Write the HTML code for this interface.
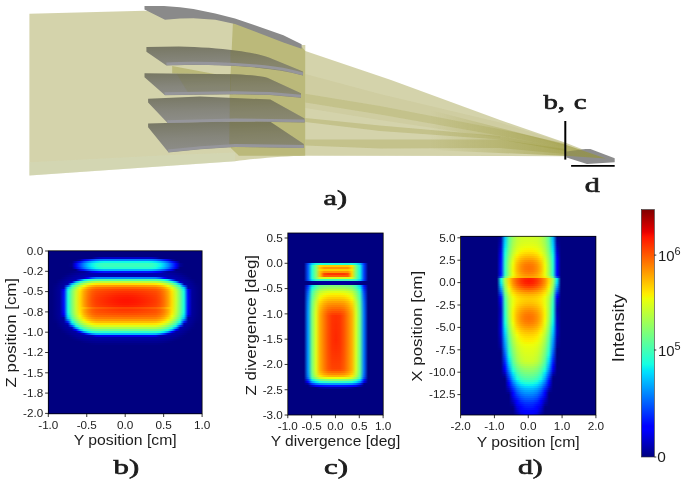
<!DOCTYPE html>
<html><head><meta charset="utf-8"><title>figure</title>
<style>
html,body{margin:0;padding:0;background:#fff;}
body{width:685px;height:484px;position:relative;overflow:hidden;font-family:"Liberation Sans",sans-serif;}
.hm{position:absolute;background:#000080;overflow:hidden;}
.hm i{position:absolute;left:0;width:100%;display:block;}
svg{position:absolute;left:0;top:0;will-change:transform;}
</style></head><body>

<div class="hm" style="left:48.3px;top:250.8px;width:153.8px;height:163.0px">
<i style="top:6px;height:2px;background:linear-gradient(90deg,#000080 0px,#000080 40px,#000084 44px,#0000a9 48px,#0000c0 52px,#0000c8 56px,#0000c8 100px,#0000c2 104px,#0000ac 108px,#000088 112px,#000080 116px,#000080 153.8px)"></i>
<i style="top:8px;height:2px;background:linear-gradient(90deg,#000080 0px,#000080 28px,#000096 32px,#0000e8 36px,#0017ff 40px,#0045ff 44px,#0066ff 48px,#007aff 52px,#0081ff 56px,#0081ff 100px,#007bff 104px,#0068ff 108px,#0048ff 112px,#001cff 116px,#0000ef 120px,#00009f 124px,#000080 128px,#000080 153.8px)"></i>
<i style="top:10px;height:2px;background:linear-gradient(90deg,#000080 0px,#000080 24px,#0000c0 28px,#000dff 32px,#0055ff 36px,#0090ff 40px,#00beff 44px,#00dffc 48px,#0bf3ec 52px,#10fae7 56px,#10fae7 100px,#0cf4eb 104px,#00e1fa 108px,#00c1ff 112px,#0095ff 116px,#005cff 120px,#0015ff 124px,#0000ca 128px,#000080 132px,#000080 153.8px)"></i>
<i style="top:12px;height:2px;background:linear-gradient(90deg,#000080 0px,#000080 20px,#000089 24px,#0000f8 28px,#003fff 32px,#0087ff 36px,#00c2ff 40px,#08efef 44px,#23ffd4 48px,#33ffc4 52px,#38ffbe 56px,#38ffbe 100px,#34ffc3 104px,#25ffd2 108px,#0bf3ec 112px,#00c7ff 116px,#008dff 120px,#0047ff 124px,#0000ff 128px,#000095 132px,#000080 136px,#000080 153.8px)"></i>
<i style="top:14px;height:2px;background:linear-gradient(90deg,#000080 0px,#000080 20px,#00008b 24px,#0000fa 28px,#0041ff 32px,#0088ff 36px,#00c3ff 40px,#09f1ee 44px,#24ffd3 48px,#34ffc3 52px,#3affbd 56px,#3affbd 100px,#35ffc2 104px,#26ffd1 108px,#0cf5ea 112px,#00c8ff 116px,#008fff 120px,#0048ff 124px,#0000ff 128px,#000097 132px,#000080 136px,#000080 153.8px)"></i>
<i style="top:16px;height:2px;background:linear-gradient(90deg,#000080 0px,#000080 24px,#0000e0 28px,#002aff 32px,#0072ff 36px,#00acff 40px,#00daff 44px,#11fbe5 48px,#21ffd5 52px,#27ffd0 56px,#27ffd0 100px,#23ffd4 104px,#13fee3 108px,#00defd 112px,#00b1ff 116px,#0078ff 120px,#0032ff 124px,#0000ea 128px,#000080 132px,#000080 153.8px)"></i>
<i style="top:18px;height:2px;background:linear-gradient(90deg,#000080 0px,#000080 28px,#0000d7 32px,#0015ff 36px,#0050ff 40px,#007eff 44px,#009eff 48px,#00b2ff 52px,#00baff 56px,#00baff 100px,#00b4ff 104px,#00a1ff 108px,#0081ff 112px,#0055ff 116px,#001bff 120px,#0000e0 124px,#000081 128px,#000080 132px,#000080 153.8px)"></i>
<i style="top:20px;height:2px;background:linear-gradient(90deg,#000080 0px,#000080 20px,#000084 24px,#00008d 28px,#000094 32px,#000099 36px,#0000b1 40px,#0000e5 44px,#0000ff 48px,#000fff 52px,#0016ff 56px,#0016ff 100px,#0010ff 104px,#0000ff 108px,#0000e9 112px,#0000b7 116px,#000099 120px,#000094 124px,#00008c 128px,#000084 132px,#000080 136px,#000080 153.8px)"></i>
<i style="top:22px;height:2px;background:linear-gradient(90deg,#000080 0px,#000080 16px,#000085 20px,#00008f 24px,#000098 28px,#00009f 32px,#0000a5 36px,#0000a9 40px,#0000ac 44px,#0000ad 48px,#0000ae 52px,#0000ae 104px,#0000ad 108px,#0000ac 112px,#0000a9 116px,#0000a4 120px,#00009f 124px,#000097 128px,#00008f 132px,#000085 136px,#000080 140px,#000080 153.8px)"></i>
<i style="top:24px;height:2px;background:linear-gradient(90deg,#000080 0px,#000080 12px,#000084 16px,#00008f 20px,#000099 24px,#0000a2 28px,#0000a9 32px,#0000af 36px,#0000b3 40px,#0000b6 44px,#0000b7 48px,#0000b8 52px,#0000b8 104px,#0000b7 108px,#0000b6 112px,#0000b3 116px,#0000ae 120px,#0000a9 124px,#0000a1 128px,#000099 132px,#00008f 136px,#000083 140px,#000080 144px,#000080 153.8px)"></i>
<i style="top:26px;height:2px;background:linear-gradient(90deg,#000080 0px,#000080 12px,#00008c 16px,#000098 20px,#0000a2 24px,#0000aa 28px,#0000b1 32px,#0000b7 36px,#0004ff 40px,#0053ff 44px,#007dff 48px,#0085ff 52px,#0086ff 56px,#0087ff 60px,#0088ff 64px,#0088ff 68px,#0089ff 72px,#0089ff 84px,#0088ff 88px,#0088ff 92px,#0087ff 96px,#0086ff 100px,#0085ff 104px,#007dff 108px,#0052ff 112px,#0001ff 116px,#0000b7 120px,#0000b1 124px,#0000aa 128px,#0000a1 132px,#000097 136px,#00008c 140px,#000080 144px,#000080 153.8px)"></i>
<i style="top:28px;height:2px;background:linear-gradient(90deg,#000080 0px,#000080 8px,#000087 12px,#000094 16px,#00009f 20px,#0000a9 24px,#0000b2 28px,#004bff 32px,#00daff 36px,#21ffd6 40px,#3dffba 44px,#4cffaa 48px,#4fffa7 52px,#50ffa7 56px,#50ffa6 60px,#51ffa6 64px,#51ffa6 68px,#51ffa5 72px,#52ffa5 76px,#52ffa5 80px,#51ffa5 84px,#51ffa6 88px,#51ffa6 92px,#50ffa6 96px,#50ffa7 100px,#4fffa7 104px,#4cffab 108px,#3dffba 112px,#20ffd7 116px,#00d8ff 120px,#0047ff 124px,#0000b2 128px,#0000a9 132px,#00009f 136px,#000094 140px,#000087 144px,#000080 148px,#000080 153.8px)"></i>
<i style="top:30px;height:2px;background:linear-gradient(90deg,#000080 0px,#000080 8px,#00008d 12px,#00009a 16px,#0000a6 20px,#0000d0 24px,#00acff 28px,#27ffd0 32px,#5eff99 36px,#87ff70 40px,#a3ff54 44px,#b2ff45 48px,#b5ff42 52px,#b6ff41 56px,#b7ff40 60px,#b7ff3f 64px,#b8ff3f 68px,#b8ff3e 72px,#b9ff3e 76px,#b9ff3e 80px,#b8ff3e 84px,#b8ff3f 88px,#b7ff3f 92px,#b7ff40 96px,#b6ff41 100px,#b5ff42 104px,#b2ff45 108px,#a2ff54 112px,#86ff71 116px,#5dff9a 120px,#26ffd1 124px,#00a7ff 128px,#0000c9 132px,#0000a5 136px,#00009a 140px,#00008d 144px,#000080 148px,#000080 153.8px)"></i>
<i style="top:32px;height:2px;background:linear-gradient(90deg,#000080 0px,#000080 4px,#000084 8px,#000093 12px,#00009f 16px,#0000ad 20px,#00b2ff 24px,#37ffc0 28px,#7aff7c 32px,#b0ff47 36px,#d8ff1f 40px,#f3f903 44px,#ffe800 48px,#ffe400 52px,#ffe300 56px,#ffe200 60px,#ffe000 64px,#ffdf00 68px,#ffdf00 72px,#ffde00 76px,#ffde00 80px,#ffdf00 84px,#ffdf00 88px,#ffe000 92px,#ffe100 96px,#ffe300 100px,#ffe400 104px,#ffe900 108px,#f3fa04 112px,#d7ff1f 116px,#afff48 120px,#79ff7e 124px,#35ffc2 128px,#00acff 132px,#0000ab 136px,#00009f 140px,#000092 144px,#000084 148px,#000080 152px,#000080 153.8px)"></i>
<i style="top:34px;height:2px;background:linear-gradient(90deg,#000080 0px,#000080 4px,#000088 8px,#000097 12px,#0000a3 16px,#005eff 20px,#26ffd1 24px,#77ff80 28px,#baff3d 32px,#eeff09 36px,#ffd200 40px,#ffb400 44px,#ffa300 48px,#ff9f00 52px,#ff9d00 56px,#ff9b00 60px,#ff9900 64px,#ff9700 68px,#ff9600 72px,#ff9600 84px,#ff9700 88px,#ff9900 92px,#ff9a00 96px,#ff9c00 100px,#ff9e00 104px,#ffa300 108px,#ffb400 112px,#ffd300 116px,#edff0a 120px,#b8ff3e 124px,#75ff81 128px,#24ffd3 132px,#0057ff 136px,#0000a3 140px,#000096 144px,#000088 148px,#000080 152px,#000080 153.8px)"></i>
<i style="top:36px;height:2px;background:linear-gradient(90deg,#000080 0px,#000080 4px,#00008b 8px,#000099 12px,#0000b2 16px,#00d7ff 20px,#54ffa3 24px,#a4ff53 28px,#e6ff11 32px,#ffce00 36px,#ffa200 40px,#ff8400 44px,#ff7400 48px,#ff6e00 52px,#ff6b00 56px,#ff6900 60px,#ff6600 64px,#ff6400 68px,#ff6300 72px,#ff6200 76px,#ff6200 80px,#ff6300 84px,#ff6400 88px,#ff6600 92px,#ff6800 96px,#ff6b00 100px,#ff6e00 104px,#ff7300 108px,#ff8400 112px,#ffa200 116px,#ffcf00 120px,#e4ff12 124px,#a2ff54 128px,#52ffa5 132px,#00d3ff 136px,#0000a9 140px,#000099 144px,#00008b 148px,#000080 152px,#000080 153.8px)"></i>
<i style="top:38px;height:2px;background:linear-gradient(90deg,#000080 0px,#000080 4px,#00008d 8px,#00009b 12px,#0000ff 16px,#0ff8e8 20px,#6eff89 24px,#beff39 28px,#ffeb00 32px,#ffb100 36px,#ff8500 40px,#ff6800 44px,#ff5800 48px,#ff5200 52px,#ff4e00 56px,#ff4a00 60px,#ff4700 64px,#ff4500 68px,#ff4300 72px,#ff4200 76px,#ff4200 80px,#ff4300 84px,#ff4400 88px,#ff4700 92px,#ff4a00 96px,#ff4e00 100px,#ff5200 104px,#ff5800 108px,#ff6800 112px,#ff8600 116px,#ffb200 120px,#feed00 124px,#bdff3a 128px,#6cff8b 132px,#0cf5ea 136px,#0000fe 140px,#00009b 144px,#00008c 148px,#000080 152px,#000080 153.8px)"></i>
<i style="top:40px;height:2px;background:linear-gradient(90deg,#000080 0px,#000080 4px,#00008d 8px,#00009b 12px,#000dff 16px,#17ffe0 20px,#76ff81 24px,#c6ff30 28px,#ffe200 32px,#ffa600 36px,#ff7b00 40px,#ff5d00 44px,#ff4d00 48px,#ff4600 52px,#ff4100 56px,#ff3d00 60px,#ff3900 64px,#ff3500 68px,#ff3300 72px,#ff3200 76px,#ff3200 80px,#ff3300 84px,#ff3500 88px,#ff3800 92px,#ff3c00 96px,#ff4100 100px,#ff4600 104px,#ff4c00 108px,#ff5d00 112px,#ff7b00 116px,#ffa700 120px,#ffe300 124px,#c5ff32 128px,#74ff83 132px,#14ffe2 136px,#0005ff 140px,#00009b 144px,#00008d 148px,#000080 152px,#000080 153.8px)"></i>
<i style="top:42px;height:2px;background:linear-gradient(90deg,#000080 0px,#000080 4px,#00008d 8px,#00009b 12px,#000fff 16px,#18ffdf 20px,#77ff7f 24px,#c8ff2f 28px,#ffdf00 32px,#ffa300 36px,#ff7700 40px,#ff5800 44px,#ff4700 48px,#ff3f00 52px,#ff3a00 56px,#ff3400 60px,#ff2f00 64px,#ff2b00 68px,#ff2800 72px,#ff2700 76px,#ff2700 80px,#ff2800 84px,#ff2b00 88px,#ff2f00 92px,#ff3400 96px,#ff3900 100px,#ff3f00 104px,#ff4600 108px,#ff5800 112px,#ff7700 116px,#ffa400 120px,#ffe000 124px,#c7ff30 128px,#76ff81 132px,#15ffe1 136px,#0007ff 140px,#00009b 144px,#00008d 148px,#000080 152px,#000080 153.8px)"></i>
<i style="top:44px;height:2px;background:linear-gradient(90deg,#000080 0px,#000080 4px,#00008d 8px,#00009b 12px,#0011ff 16px,#18ffde 20px,#79ff7e 24px,#caff2d 28px,#ffdd00 32px,#ffa100 36px,#ff7300 40px,#ff5400 44px,#ff4200 48px,#ff3a00 52px,#ff3300 56px,#ff2d00 60px,#ff2700 64px,#ff2200 68px,#ff1f00 72px,#ff1e00 76px,#ff1d00 80px,#ff1f00 84px,#ff2200 88px,#ff2700 92px,#ff2c00 96px,#ff3200 100px,#ff3900 104px,#ff4100 108px,#ff5400 112px,#ff7300 116px,#ffa100 120px,#ffde00 124px,#c8ff2f 128px,#77ff80 132px,#16ffe1 136px,#0009ff 140px,#00009b 144px,#00008d 148px,#000080 152px,#000080 153.8px)"></i>
<i style="top:46px;height:2px;background:linear-gradient(90deg,#000080 0px,#000080 4px,#00008d 8px,#00009b 12px,#0012ff 16px,#19ffde 20px,#79ff7d 24px,#cbff2c 28px,#ffdc00 32px,#ff9f00 36px,#ff7100 40px,#ff5100 44px,#ff3e00 48px,#ff3500 52px,#ff2e00 56px,#ff2700 60px,#ff2100 64px,#ff1c00 68px,#ff1900 72px,#ff1700 76px,#ff1700 80px,#ff1800 84px,#ff1c00 88px,#ff2100 92px,#ff2700 96px,#ff2d00 100px,#ff3500 104px,#ff3e00 108px,#ff5100 112px,#ff7100 116px,#ff9f00 120px,#ffdd00 124px,#c9ff2e 128px,#77ff7f 132px,#17ffe0 136px,#000aff 140px,#00009b 144px,#00008d 148px,#000080 152px,#000080 153.8px)"></i>
<i style="top:48px;height:2px;background:linear-gradient(90deg,#000080 0px,#000080 4px,#00008d 8px,#00009b 12px,#0012ff 16px,#19ffdd 20px,#7aff7d 24px,#cbff2c 28px,#ffdb00 32px,#ff9e00 36px,#ff6f00 40px,#ff4f00 44px,#ff3c00 48px,#ff3300 52px,#ff2c00 56px,#ff2500 60px,#ff1e00 64px,#ff1900 68px,#ff1500 72px,#ff1300 76px,#ff1300 80px,#ff1500 84px,#ff1900 88px,#ff1e00 92px,#ff2400 96px,#ff2b00 100px,#ff3200 104px,#ff3c00 108px,#ff4f00 112px,#ff7000 116px,#ff9e00 120px,#ffdc00 124px,#caff2d 128px,#78ff7f 132px,#17ffe0 136px,#000bff 140px,#00009b 144px,#00008d 148px,#000080 152px,#000080 153.8px)"></i>
<i style="top:50px;height:2px;background:linear-gradient(90deg,#000080 0px,#000080 4px,#00008d 8px,#00009b 12px,#0012ff 16px,#19ffdd 20px,#7aff7d 24px,#cbff2c 28px,#ffdb00 32px,#ff9e00 36px,#ff7000 40px,#ff5000 44px,#ff3d00 48px,#ff3400 52px,#ff2c00 56px,#ff2500 60px,#ff1f00 64px,#ff1a00 68px,#ff1600 72px,#ff1400 76px,#ff1400 80px,#ff1600 84px,#ff1900 88px,#ff1e00 92px,#ff2400 96px,#ff2b00 100px,#ff3300 104px,#ff3c00 108px,#ff4f00 112px,#ff7000 116px,#ff9e00 120px,#ffdc00 124px,#caff2d 128px,#78ff7f 132px,#17ffe0 136px,#000aff 140px,#00009b 144px,#00008d 148px,#000080 152px,#000080 153.8px)"></i>
<i style="top:52px;height:2px;background:linear-gradient(90deg,#000080 0px,#000080 4px,#00008d 8px,#00009b 12px,#0011ff 16px,#19ffde 20px,#79ff7e 24px,#caff2c 28px,#ffdc00 32px,#ff9f00 36px,#ff7100 40px,#ff5200 44px,#ff3f00 48px,#ff3600 52px,#ff2f00 56px,#ff2900 60px,#ff2300 64px,#ff1e00 68px,#ff1a00 72px,#ff1800 76px,#ff1800 80px,#ff1a00 84px,#ff1d00 88px,#ff2200 92px,#ff2800 96px,#ff2f00 100px,#ff3600 104px,#ff3f00 108px,#ff5200 112px,#ff7100 116px,#ffa000 120px,#ffdd00 124px,#c9ff2e 128px,#77ff80 132px,#17ffe0 136px,#000aff 140px,#00009b 144px,#00008d 148px,#000080 152px,#000080 153.8px)"></i>
<i style="top:54px;height:2px;background:linear-gradient(90deg,#000080 0px,#000080 4px,#00008d 8px,#00009b 12px,#0010ff 16px,#18ffde 20px,#78ff7f 24px,#c9ff2e 28px,#ffde00 32px,#ffa100 36px,#ff7400 40px,#ff5500 44px,#ff4300 48px,#ff3b00 52px,#ff3500 56px,#ff2f00 60px,#ff2900 64px,#ff2500 68px,#ff2200 72px,#ff2000 76px,#ff2000 80px,#ff2200 84px,#ff2500 88px,#ff2900 92px,#ff2e00 96px,#ff3400 100px,#ff3a00 104px,#ff4300 108px,#ff5500 112px,#ff7400 116px,#ffa200 120px,#ffdf00 124px,#c8ff2f 128px,#76ff80 132px,#16ffe1 136px,#0008ff 140px,#00009b 144px,#00008d 148px,#000080 152px,#000080 153.8px)"></i>
<i style="top:56px;height:2px;background:linear-gradient(90deg,#000080 0px,#000080 4px,#00008d 8px,#00009b 12px,#000eff 16px,#17ffdf 20px,#77ff80 24px,#c8ff2f 28px,#ffe000 32px,#ffbf00 36px,#ff9300 40px,#ff7400 44px,#ff6300 48px,#ff5c00 52px,#ff5700 56px,#ff5100 60px,#ff4d00 64px,#ff4900 68px,#ff4600 72px,#ff4500 76px,#ff4500 80px,#ff4600 84px,#ff4900 88px,#ff4c00 92px,#ff5100 96px,#ff5600 100px,#ff5c00 104px,#ff6300 108px,#ff7400 112px,#ff9300 116px,#ffc000 120px,#ffe100 124px,#c6ff31 128px,#75ff82 132px,#15ffe2 136px,#0007ff 140px,#00009b 144px,#00008d 148px,#000080 152px,#000080 153.8px)"></i>
<i style="top:58px;height:2px;background:linear-gradient(90deg,#000080 0px,#000080 4px,#00008d 8px,#00009b 12px,#000dff 16px,#17ffe0 20px,#76ff81 24px,#c6ff31 28px,#ffe200 32px,#ffaa00 36px,#ff7e00 40px,#ff6100 44px,#ff5100 48px,#ff4a00 52px,#ff4600 56px,#ff4200 60px,#ff3e00 64px,#ff3b00 68px,#ff3800 72px,#ff3700 76px,#ff3700 80px,#ff3800 84px,#ff3a00 88px,#ff3d00 92px,#ff4100 96px,#ff4500 100px,#ff4a00 104px,#ff5000 108px,#ff6100 112px,#ff7e00 116px,#ffaa00 120px,#ffe400 124px,#c4ff32 128px,#74ff83 132px,#14fee3 136px,#0005ff 140px,#00009b 144px,#00008d 148px,#000080 152px,#000080 153.8px)"></i>
<i style="top:60px;height:2px;background:linear-gradient(90deg,#000080 0px,#000080 4px,#00008d 8px,#00009b 12px,#0009ff 16px,#15ffe2 20px,#74ff83 24px,#c4ff33 28px,#ffe600 32px,#ffab00 36px,#ff8000 40px,#ff6400 44px,#ff5500 48px,#ff4f00 52px,#ff4c00 56px,#ff4800 60px,#ff4500 64px,#ff4300 68px,#ff4100 72px,#ff4000 76px,#ff4000 80px,#ff4100 84px,#ff4300 88px,#ff4500 92px,#ff4800 96px,#ff4b00 100px,#ff4f00 104px,#ff5400 108px,#ff6400 112px,#ff8100 116px,#ffac00 120px,#ffe700 124px,#c2ff35 128px,#72ff85 132px,#13fde4 136px,#0002ff 140px,#00009b 144px,#00008d 148px,#000080 152px,#000080 153.8px)"></i>
<i style="top:62px;height:2px;background:linear-gradient(90deg,#000080 0px,#000080 4px,#00008d 8px,#00009b 12px,#0000ff 16px,#0ef7e9 20px,#6dff8a 24px,#bdff3a 28px,#fdee00 32px,#ffb400 36px,#ff8a00 40px,#ff6d00 44px,#ff5e00 48px,#ff5a00 52px,#ff5700 56px,#ff5500 60px,#ff5200 64px,#ff5100 68px,#ff4f00 72px,#ff4f00 84px,#ff5000 88px,#ff5200 92px,#ff5400 96px,#ff5700 100px,#ff5a00 104px,#ff5e00 108px,#ff6e00 112px,#ff8a00 116px,#ffb500 120px,#fcef00 124px,#bbff3c 128px,#6bff8c 132px,#0cf4eb 136px,#0000fd 140px,#00009a 144px,#00008c 148px,#000080 152px,#000080 153.8px)"></i>
<i style="top:64px;height:2px;background:linear-gradient(90deg,#000080 0px,#000080 4px,#00008b 8px,#00009a 12px,#0000dd 16px,#01e7f6 20px,#60ff97 24px,#afff47 28px,#f0fd07 32px,#ffc300 36px,#ff9900 40px,#ff7c00 44px,#ff6d00 48px,#ff6900 52px,#ff6800 56px,#ff6600 60px,#ff6400 64px,#ff6300 68px,#ff6200 72px,#ff6100 76px,#ff6100 80px,#ff6200 84px,#ff6300 88px,#ff6400 92px,#ff6600 96px,#ff6700 100px,#ff6900 104px,#ff6d00 108px,#ff7d00 112px,#ff9900 116px,#ffc400 120px,#efff08 124px,#aeff49 128px,#5eff99 132px,#00e4f8 136px,#0000d3 140px,#000099 144px,#00008b 148px,#000080 152px,#000080 153.8px)"></i>
<i style="top:66px;height:2px;background:linear-gradient(90deg,#000080 0px,#000080 4px,#00008a 8px,#000098 12px,#0000a5 16px,#00caff 20px,#4cffab 24px,#9cff5b 28px,#ddff1a 32px,#ffd900 36px,#ffae00 40px,#ff9100 44px,#ff8200 48px,#ff7f00 52px,#ff7d00 56px,#ff7c00 60px,#ff7b00 64px,#ff7a00 68px,#ff7a00 72px,#ff7900 76px,#ff7900 84px,#ff7a00 88px,#ff7b00 92px,#ff7c00 96px,#ff7d00 100px,#ff7e00 104px,#ff8200 108px,#ff9200 112px,#ffaf00 116px,#ffda00 120px,#dcff1b 124px,#9aff5c 128px,#4affad 132px,#00c3ff 136px,#0000a4 140px,#000097 144px,#000089 148px,#000080 152px,#000080 153.8px)"></i>
<i style="top:68px;height:2px;background:linear-gradient(90deg,#000080 0px,#000080 4px,#000087 8px,#000095 12px,#0000a2 16px,#0082ff 20px,#32ffc5 24px,#82ff74 28px,#c4ff33 32px,#f7f500 36px,#ffc900 40px,#ffad00 44px,#ff9d00 48px,#ff9a00 52px,#ff9900 56px,#ff9800 60px,#ff9800 64px,#ff9700 68px,#ff9700 72px,#ff9600 76px,#ff9600 80px,#ff9700 84px,#ff9700 88px,#ff9800 92px,#ff9800 96px,#ff9900 100px,#ff9a00 104px,#ff9d00 108px,#ffad00 112px,#ffca00 116px,#f6f600 120px,#c3ff34 124px,#81ff76 128px,#30ffc7 132px,#007bff 136px,#0000a2 140px,#000095 144px,#000087 148px,#000080 152px,#000080 153.8px)"></i>
<i style="top:70px;height:2px;background:linear-gradient(90deg,#000080 0px,#000080 4px,#000084 8px,#000092 12px,#00009f 16px,#0027ff 20px,#11fbe5 24px,#62ff94 28px,#a5ff52 32px,#d9ff1e 36px,#ffec00 40px,#ffcf00 44px,#ffbf00 48px,#ffbc00 52px,#ffbc00 56px,#ffbb00 60px,#ffbb00 64px,#ffba00 68px,#ffba00 88px,#ffbb00 92px,#ffbb00 100px,#ffbc00 104px,#ffbf00 108px,#ffcf00 112px,#feed00 116px,#d7ff1f 120px,#a3ff54 124px,#61ff96 128px,#0ff8e8 132px,#0020ff 136px,#00009f 140px,#000092 144px,#000084 148px,#000080 152px,#000080 153.8px)"></i>
<i style="top:72px;height:2px;background:linear-gradient(90deg,#000080 0px,#000080 8px,#00008e 12px,#00009b 16px,#0000bf 20px,#00c1ff 24px,#3cffbb 28px,#7fff78 32px,#b3ff43 36px,#daff1c 40px,#f5f802 44px,#ffe800 48px,#ffe500 52px,#ffe500 60px,#ffe400 64px,#ffe400 92px,#ffe500 96px,#ffe500 104px,#ffe800 108px,#f4f803 112px,#daff1d 116px,#b2ff45 120px,#7dff7a 124px,#3affbd 128px,#00bbff 132px,#0000b7 136px,#00009b 140px,#00008e 144px,#000080 148px,#000080 153.8px)"></i>
<i style="top:74px;height:2px;background:linear-gradient(90deg,#000080 0px,#000080 8px,#00008a 12px,#000097 16px,#0000a2 20px,#0042ff 24px,#0ef7e9 28px,#52ffa5 32px,#87ff70 36px,#afff48 40px,#caff2d 44px,#d8ff1f 48px,#daff1c 52px,#daff1c 56px,#dbff1c 60px,#dbff1c 96px,#daff1c 100px,#daff1c 104px,#d8ff1f 108px,#c9ff2d 112px,#aeff48 116px,#86ff71 120px,#50ffa7 124px,#0cf4eb 128px,#003cff 132px,#0000a2 136px,#000096 140px,#00008a 144px,#000080 148px,#000080 153.8px)"></i>
<i style="top:76px;height:2px;background:linear-gradient(90deg,#000080 0px,#000080 8px,#000085 12px,#000092 16px,#00009d 20px,#0000b5 24px,#0093ff 28px,#1effd9 32px,#54ffa3 36px,#7dff7a 40px,#98ff5f 44px,#a6ff51 48px,#a9ff4e 52px,#a9ff4e 104px,#a6ff51 108px,#97ff5f 112px,#7cff7b 116px,#53ffa4 120px,#1cffdb 124px,#008eff 128px,#0000ae 132px,#00009d 136px,#000091 140px,#000084 144px,#000080 148px,#000080 153.8px)"></i>
<i style="top:78px;height:2px;background:linear-gradient(90deg,#000080 0px,#000080 12px,#00008c 16px,#000097 20px,#0000a1 24px,#0000fd 28px,#00adff 32px,#1affdd 36px,#43ffb4 40px,#5fff98 44px,#6dff8a 48px,#70ff87 52px,#70ff87 104px,#6dff8a 108px,#5eff99 112px,#42ffb5 116px,#18ffde 120px,#00a9ff 124px,#0000f7 128px,#0000a1 132px,#000097 136px,#00008c 140px,#000080 144px,#000080 153.8px)"></i>
<i style="top:80px;height:2px;background:linear-gradient(90deg,#000080 0px,#000080 12px,#000086 16px,#000091 20px,#00009b 24px,#0000a3 28px,#0000ff 32px,#0090ff 36px,#02e7f5 40px,#1effd9 44px,#2dffca 48px,#2fffc8 52px,#2fffc8 104px,#2cffca 108px,#1dffda 112px,#01e6f6 116px,#008cff 120px,#0000ff 124px,#0000a3 128px,#00009b 132px,#000091 136px,#000085 140px,#000080 144px,#000080 153.8px)"></i>
<i style="top:82px;height:2px;background:linear-gradient(90deg,#000080 0px,#000080 16px,#00008a 20px,#000094 24px,#00009c 28px,#0000a4 32px,#0000cf 36px,#003aff 40px,#0089ff 44px,#00b2ff 48px,#00b9ff 52px,#00b9ff 104px,#00b1ff 108px,#0087ff 112px,#0038ff 116px,#0000cb 120px,#0000a3 124px,#00009c 128px,#000094 132px,#00008a 136px,#000080 140px,#000080 153.8px)"></i>
<i style="top:84px;height:2px;background:linear-gradient(90deg,#000080 0px,#000080 16px,#000082 20px,#00008c 24px,#000095 28px,#00009c 32px,#0000a2 36px,#0000a6 40px,#0000b2 44px,#0000e1 48px,#0000e9 52px,#0000e9 104px,#0000e1 108px,#0000b0 112px,#0000a6 116px,#0000a2 120px,#00009c 124px,#000095 128px,#00008c 132px,#000082 136px,#000080 140px,#000080 153.8px)"></i>
<i style="top:86px;height:2px;background:linear-gradient(90deg,#000080 0px,#000080 20px,#000084 24px,#00008d 28px,#000094 32px,#000099 36px,#00009e 40px,#0000a1 44px,#0000a2 48px,#0000a3 52px,#0000a3 104px,#0000a2 108px,#0000a1 112px,#00009e 116px,#000099 120px,#000094 124px,#00008c 128px,#000084 132px,#000080 136px,#000080 153.8px)"></i>
<i style="top:88px;height:2px;background:linear-gradient(90deg,#000080 0px,#000080 24px,#000084 28px,#00008b 32px,#000091 36px,#000095 40px,#000098 44px,#000099 48px,#00009a 52px,#00009a 104px,#000099 108px,#000098 112px,#000095 116px,#000090 120px,#00008b 124px,#000083 128px,#000080 132px,#000080 153.8px)"></i>
<i style="top:90px;height:2px;background:linear-gradient(90deg,#000080 0px,#000080 28px,#000081 32px,#000087 36px,#00008b 40px,#00008e 44px,#000090 48px,#000090 108px,#00008e 112px,#00008b 116px,#000087 120px,#000081 124px,#000080 128px,#000080 153.8px)"></i>
<i style="top:92px;height:2px;background:linear-gradient(90deg,#000080 0px,#000080 36px,#000081 40px,#000084 44px,#000086 48px,#000086 108px,#000084 112px,#000081 116px,#000080 120px,#000080 153.8px)"></i>
</div>
<div class="hm" style="left:287.8px;top:233px;width:95.39999999999998px;height:182px">
<i style="top:30px;height:2px;background:linear-gradient(90deg,#000080 0px,#000080 16px,#0045ff 20px,#00ceff 24px,#13fde4 28px,#1dffda 32px,#1dffd9 36px,#1dffd9 60px,#1dffda 64px,#10f9e7 68px,#00c5ff 72px,#0032ff 76px,#000080 80px,#000080 95.4px)"></i>
<i style="top:32px;height:2px;background:linear-gradient(90deg,#000080 0px,#000080 16px,#0056ff 20px,#1dffd9 24px,#82ff74 28px,#ffdc00 32px,#ffcd00 36px,#ffcd00 60px,#ffe700 64px,#76ff81 68px,#11fbe6 72px,#0040ff 76px,#000080 80px,#000080 95.4px)"></i>
<i style="top:34px;height:2px;background:linear-gradient(90deg,#000080 0px,#000080 16px,#0056ff 20px,#1effd9 24px,#83ff74 28px,#ffc600 32px,#ff9500 36px,#ff9500 60px,#ffd800 64px,#76ff80 68px,#11fbe6 72px,#0040ff 76px,#000080 80px,#000080 95.4px)"></i>
<i style="top:36px;height:2px;background:linear-gradient(90deg,#000080 0px,#000080 16px,#0056ff 20px,#1dffd9 24px,#82ff74 28px,#ffdc00 32px,#ffcd00 36px,#ffcd00 60px,#ffe700 64px,#76ff81 68px,#11fbe6 72px,#0040ff 76px,#000080 80px,#000080 95.4px)"></i>
<i style="top:38px;height:2px;background:linear-gradient(90deg,#000080 0px,#000080 16px,#0056ff 20px,#1effd9 24px,#83ff74 28px,#ffc600 32px,#ff9400 36px,#ff9400 60px,#ffd800 64px,#76ff80 68px,#11fbe6 72px,#0040ff 76px,#000080 80px,#000080 95.4px)"></i>
<i style="top:40px;height:2px;background:linear-gradient(90deg,#000080 0px,#000080 16px,#0056ff 20px,#1effd9 24px,#83ff74 28px,#ffc300 32px,#ff4900 36px,#ff3600 40px,#ff3600 56px,#ff4e00 60px,#ffd700 64px,#76ff80 68px,#11fbe6 72px,#0040ff 76px,#000080 80px,#000080 95.4px)"></i>
<i style="top:42px;height:2px;background:linear-gradient(90deg,#000080 0px,#000080 16px,#0056ff 20px,#1effd9 24px,#83ff74 28px,#ffc300 32px,#ff5d00 36px,#ff5d00 56px,#ff5e00 60px,#ffd700 64px,#76ff80 68px,#11fbe6 72px,#0040ff 76px,#000080 80px,#000080 95.4px)"></i>
<i style="top:44px;height:2px;background:linear-gradient(90deg,#000080 0px,#000080 16px,#0055ff 20px,#1cffdb 24px,#7dff7a 28px,#d6ff21 32px,#d9ff1e 36px,#d9ff1e 60px,#d4ff23 64px,#71ff85 68px,#10f9e7 72px,#0040ff 76px,#000080 80px,#000080 95.4px)"></i>
<i style="top:46px;height:2px;background:linear-gradient(90deg,#000080 0px,#000080 16px,#004cff 20px,#00e3f9 24px,#2fffc8 28px,#3fffb8 32px,#3fffb8 64px,#2bffcb 68px,#00d8ff 72px,#0038ff 76px,#000080 80px,#000080 95.4px)"></i>
<i style="top:48px;height:2px;background:linear-gradient(90deg,#000080 0px,#000080 20px,#000099 24px,#00009e 28px,#00009f 32px,#00009f 64px,#00009e 68px,#000098 72px,#000080 76px,#000080 95.4px)"></i>
<i style="top:50px;height:2px;background:linear-gradient(90deg,#000080 0px,#000080 28px,#00008f 32px,#000097 36px,#00009b 40px,#00009c 44px,#00009c 52px,#00009b 56px,#000096 60px,#00008e 64px,#000080 68px,#000080 95.4px)"></i>
<i style="top:52px;height:2px;background:linear-gradient(90deg,#000080 0px,#000080 16px,#002eff 20px,#00e3f9 24px,#3fffb8 28px,#6aff8d 32px,#77ff80 36px,#7dff79 40px,#7fff77 44px,#80ff77 48px,#7fff77 52px,#7dff7a 56px,#76ff81 60px,#68ff8e 64px,#3bffbc 68px,#00d6ff 72px,#0012ff 76px,#000080 80px,#000080 95.4px)"></i>
<i style="top:54px;height:2px;background:linear-gradient(90deg,#000080 0px,#000080 16px,#0042ff 20px,#13fde4 24px,#58ff9e 28px,#87ff6f 32px,#95ff61 36px,#9dff5a 40px,#9fff58 44px,#9fff58 52px,#9cff5a 56px,#94ff63 60px,#86ff71 64px,#54ffa3 68px,#09f0ee 72px,#0025ff 76px,#000080 80px,#000080 95.4px)"></i>
<i style="top:56px;height:2px;background:linear-gradient(90deg,#000080 0px,#000080 16px,#0054ff 20px,#27ffcf 24px,#71ff86 28px,#a4ff53 32px,#b4ff43 36px,#bcff3a 40px,#bfff38 44px,#bfff38 52px,#bcff3b 56px,#b2ff44 60px,#a2ff55 64px,#6cff8b 68px,#1cffdb 72px,#0036ff 76px,#000080 80px,#000080 95.4px)"></i>
<i style="top:58px;height:2px;background:linear-gradient(90deg,#000080 0px,#000080 16px,#0064ff 20px,#3affbd 24px,#88ff6f 28px,#c0ff37 32px,#d2ff25 36px,#dcff1b 40px,#deff18 44px,#dfff18 48px,#deff18 52px,#dbff1c 56px,#d0ff26 60px,#beff39 64px,#83ff74 68px,#2effc9 72px,#0045ff 76px,#000080 80px,#000080 95.4px)"></i>
<i style="top:60px;height:2px;background:linear-gradient(90deg,#000080 0px,#000080 16px,#006fff 20px,#47ffb0 24px,#99ff5e 28px,#d5ff21 32px,#e9ff0e 36px,#f4f903 40px,#f7f500 44px,#f8f500 48px,#f7f500 52px,#f3f903 56px,#e7ff0f 60px,#d3ff24 64px,#93ff63 68px,#3bffbc 72px,#0050ff 76px,#000080 80px,#000080 95.4px)"></i>
<i style="top:62px;height:2px;background:linear-gradient(90deg,#000080 0px,#000080 16px,#0077ff 20px,#50ffa7 24px,#a4ff52 28px,#e4ff12 32px,#faf200 36px,#ffe400 40px,#ffe000 44px,#ffe000 52px,#ffe500 56px,#f8f400 60px,#e2ff15 64px,#9fff58 68px,#43ffb3 72px,#0057ff 76px,#000080 80px,#000080 95.4px)"></i>
<i style="top:64px;height:2px;background:linear-gradient(90deg,#000080 0px,#000080 16px,#007eff 20px,#58ff9f 24px,#afff48 28px,#f3fa04 32px,#ffdf00 36px,#ffd000 40px,#ffcb00 44px,#ffcb00 52px,#ffd100 56px,#ffe200 60px,#f0fd07 64px,#a9ff4e 68px,#4bffac 72px,#005dff 76px,#000080 80px,#000080 95.4px)"></i>
<i style="top:66px;height:2px;background:linear-gradient(90deg,#000080 0px,#000080 16px,#0083ff 20px,#5fff98 24px,#b9ff3e 28px,#ffea00 32px,#ffcd00 36px,#ffbc00 40px,#ffb700 44px,#ffb600 48px,#ffb700 52px,#ffbd00 56px,#ffd000 60px,#feee00 64px,#b3ff44 68px,#52ffa5 72px,#0063ff 76px,#000080 80px,#000080 95.4px)"></i>
<i style="top:68px;height:2px;background:linear-gradient(90deg,#000080 0px,#000080 16px,#0089ff 20px,#66ff91 24px,#c2ff35 28px,#ffdc00 32px,#ffbc00 36px,#ffa800 40px,#ffa200 44px,#ffa200 52px,#ffa900 56px,#ffbe00 60px,#ffdf00 64px,#bbff3b 68px,#58ff9f 72px,#0068ff 76px,#000080 80px,#000080 95.4px)"></i>
<i style="top:70px;height:2px;background:linear-gradient(90deg,#000080 0px,#000080 16px,#008dff 20px,#6aff8c 24px,#c9ff2e 28px,#ffd000 32px,#ffad00 36px,#ff9700 40px,#ff9000 44px,#ff8f00 48px,#ff9000 52px,#ff9800 56px,#ffb000 60px,#ffd300 64px,#c2ff35 68px,#5dff9a 72px,#006cff 76px,#000080 80px,#000080 95.4px)"></i>
<i style="top:72px;height:2px;background:linear-gradient(90deg,#000080 0px,#000080 16px,#0090ff 20px,#6eff89 24px,#ceff29 28px,#ffc600 32px,#ffa100 36px,#ff8800 40px,#ff8000 44px,#ff7f00 48px,#ff8000 52px,#ff8a00 56px,#ffa400 60px,#ffca00 64px,#c7ff2f 68px,#60ff96 72px,#006eff 76px,#000080 80px,#000080 95.4px)"></i>
<i style="top:74px;height:2px;background:linear-gradient(90deg,#000080 0px,#000080 16px,#0092ff 20px,#71ff85 24px,#d3ff24 28px,#ffbe00 32px,#ff9600 36px,#ff7a00 40px,#ff7000 44px,#ff6f00 48px,#ff7000 52px,#ff7c00 56px,#ff9900 60px,#ffc200 64px,#ccff2b 68px,#63ff93 72px,#0071ff 76px,#000080 80px,#000080 95.4px)"></i>
<i style="top:76px;height:2px;background:linear-gradient(90deg,#000080 0px,#000080 16px,#0094ff 20px,#74ff83 24px,#d6ff20 28px,#ffb700 32px,#ff8c00 36px,#ff6c00 40px,#ff6000 44px,#ff5f00 48px,#ff6000 52px,#ff6e00 56px,#ff9000 60px,#ffbb00 64px,#cfff28 68px,#66ff91 72px,#0073ff 76px,#000080 80px,#000080 95.4px)"></i>
<i style="top:78px;height:2px;background:linear-gradient(90deg,#000080 0px,#000080 16px,#0096ff 20px,#76ff81 24px,#d9ff1e 28px,#ffb100 32px,#ff8400 36px,#ff6000 40px,#ff5100 44px,#ff4f00 48px,#ff5100 52px,#ff6200 56px,#ff8800 60px,#ffb600 64px,#d2ff25 68px,#68ff8f 72px,#0074ff 76px,#000080 80px,#000080 95.4px)"></i>
<i style="top:80px;height:2px;background:linear-gradient(90deg,#000080 0px,#000080 16px,#0097ff 20px,#77ff80 24px,#dbff1c 28px,#ffad00 32px,#ff7e00 36px,#ff5600 40px,#ff4100 44px,#ff3f00 48px,#ff4200 52px,#ff5900 56px,#ff8300 60px,#ffb200 64px,#d4ff23 68px,#69ff8e 72px,#0075ff 76px,#000080 80px,#000080 95.4px)"></i>
<i style="top:82px;height:2px;background:linear-gradient(90deg,#000080 0px,#000080 16px,#0097ff 20px,#78ff7f 24px,#dcff1b 28px,#ffab00 32px,#ff7b00 36px,#ff4f00 40px,#ff3400 44px,#ff2f00 48px,#ff3500 52px,#ff5300 56px,#ff8000 60px,#ffb000 64px,#d5ff22 68px,#6aff8d 72px,#0076ff 76px,#000080 80px,#000080 95.4px)"></i>
<i style="top:84px;height:2px;background:linear-gradient(90deg,#000080 0px,#000080 16px,#0097ff 20px,#78ff7f 24px,#dcff1b 28px,#ffab00 32px,#ff7b00 36px,#ff4f00 40px,#ff3400 44px,#ff2e00 48px,#ff3400 52px,#ff5300 56px,#ff8000 60px,#ffb000 64px,#d5ff22 68px,#6aff8d 72px,#0076ff 76px,#000080 80px,#000080 95.4px)"></i>
<i style="top:86px;height:2px;background:linear-gradient(90deg,#000080 0px,#000080 16px,#0097ff 20px,#78ff7f 24px,#dcff1b 28px,#ffab00 32px,#ff7b00 36px,#ff4f00 40px,#ff3300 44px,#ff2e00 48px,#ff3400 52px,#ff5300 56px,#ff8000 60px,#ffb000 64px,#d5ff22 68px,#6aff8d 72px,#0076ff 76px,#000080 80px,#000080 95.4px)"></i>
<i style="top:88px;height:2px;background:linear-gradient(90deg,#000080 0px,#000080 16px,#0097ff 20px,#78ff7f 24px,#dcff1b 28px,#ffab00 32px,#ff7b00 36px,#ff4f00 40px,#ff3300 44px,#ff2d00 48px,#ff3400 52px,#ff5300 56px,#ff8000 60px,#ffb000 64px,#d5ff22 68px,#6aff8d 72px,#0076ff 76px,#000080 80px,#000080 95.4px)"></i>
<i style="top:90px;height:2px;background:linear-gradient(90deg,#000080 0px,#000080 16px,#0097ff 20px,#78ff7f 24px,#dcff1b 28px,#ffab00 32px,#ff7b00 36px,#ff4f00 40px,#ff3200 44px,#ff2c00 48px,#ff3300 52px,#ff5300 56px,#ff7f00 60px,#ffb000 64px,#d5ff22 68px,#6aff8d 72px,#0076ff 76px,#000080 80px,#000080 95.4px)"></i>
<i style="top:92px;height:2px;background:linear-gradient(90deg,#000080 0px,#000080 16px,#0097ff 20px,#78ff7f 24px,#dcff1b 28px,#ffab00 32px,#ff7b00 36px,#ff4f00 40px,#ff3200 44px,#ff2b00 48px,#ff3300 52px,#ff5300 56px,#ff7f00 60px,#ffb000 64px,#d5ff22 68px,#6aff8d 72px,#0076ff 76px,#000080 80px,#000080 95.4px)"></i>
<i style="top:94px;height:2px;background:linear-gradient(90deg,#000080 0px,#000080 16px,#0097ff 20px,#78ff7f 24px,#dcff1b 28px,#ffab00 32px,#ff7b00 36px,#ff4f00 40px,#ff3200 44px,#ff2b00 48px,#ff3300 52px,#ff5200 56px,#ff7f00 60px,#ffb000 64px,#d5ff22 68px,#6aff8d 72px,#0076ff 76px,#000080 80px,#000080 95.4px)"></i>
<i style="top:96px;height:2px;background:linear-gradient(90deg,#000080 0px,#000080 16px,#0097ff 20px,#78ff7f 24px,#dcff1b 28px,#ffab00 32px,#ff7a00 36px,#ff4f00 40px,#ff3100 44px,#ff2a00 48px,#ff3200 52px,#ff5200 56px,#ff7f00 60px,#ffb000 64px,#d5ff22 68px,#6aff8d 72px,#0076ff 76px,#000080 80px,#000080 95.4px)"></i>
<i style="top:98px;height:2px;background:linear-gradient(90deg,#000080 0px,#000080 16px,#0097ff 20px,#78ff7f 24px,#dcff1b 28px,#ffab00 32px,#ff7a00 36px,#ff4f00 40px,#ff3100 44px,#ff2900 48px,#ff3200 52px,#ff5200 56px,#ff7f00 60px,#ffb000 64px,#d5ff22 68px,#6aff8d 72px,#0076ff 76px,#000080 80px,#000080 95.4px)"></i>
<i style="top:100px;height:2px;background:linear-gradient(90deg,#000080 0px,#000080 16px,#0097ff 20px,#78ff7f 24px,#dcff1b 28px,#ffab00 32px,#ff7a00 36px,#ff4e00 40px,#ff3100 44px,#ff2800 48px,#ff3200 52px,#ff5200 56px,#ff7f00 60px,#ffb000 64px,#d5ff22 68px,#6aff8d 72px,#0076ff 76px,#000080 80px,#000080 95.4px)"></i>
<i style="top:102px;height:2px;background:linear-gradient(90deg,#000080 0px,#000080 16px,#0097ff 20px,#78ff7f 24px,#dcff1b 28px,#ffab00 32px,#ff7a00 36px,#ff4e00 40px,#ff3100 44px,#ff2700 48px,#ff3200 52px,#ff5200 56px,#ff7f00 60px,#ffb000 64px,#d5ff22 68px,#6aff8d 72px,#0076ff 76px,#000080 80px,#000080 95.4px)"></i>
<i style="top:104px;height:2px;background:linear-gradient(90deg,#000080 0px,#000080 16px,#0097ff 20px,#78ff7f 24px,#dcff1b 28px,#ffab00 32px,#ff7a00 36px,#ff4e00 40px,#ff3100 44px,#ff2700 48px,#ff3200 52px,#ff5200 56px,#ff7f00 60px,#ffb000 64px,#d5ff22 68px,#6aff8d 72px,#0076ff 76px,#000080 80px,#000080 95.4px)"></i>
<i style="top:106px;height:2px;background:linear-gradient(90deg,#000080 0px,#000080 16px,#0097ff 20px,#78ff7f 24px,#dcff1b 28px,#ffab00 32px,#ff7a00 36px,#ff4e00 40px,#ff3100 44px,#ff2600 48px,#ff3200 52px,#ff5200 56px,#ff7f00 60px,#ffb000 64px,#d5ff22 68px,#6aff8d 72px,#0076ff 76px,#000080 80px,#000080 95.4px)"></i>
<i style="top:108px;height:2px;background:linear-gradient(90deg,#000080 0px,#000080 16px,#0097ff 20px,#78ff7f 24px,#dcff1b 28px,#ffab00 32px,#ff7a00 36px,#ff4e00 40px,#ff3100 44px,#ff2800 48px,#ff3200 52px,#ff5200 56px,#ff7f00 60px,#ffb000 64px,#d5ff22 68px,#6aff8d 72px,#0076ff 76px,#000080 80px,#000080 95.4px)"></i>
<i style="top:110px;height:2px;background:linear-gradient(90deg,#000080 0px,#000080 16px,#0097ff 20px,#78ff7f 24px,#dcff1b 28px,#ffab00 32px,#ff7a00 36px,#ff4f00 40px,#ff3100 44px,#ff2a00 48px,#ff3200 52px,#ff5200 56px,#ff7f00 60px,#ffb000 64px,#d5ff22 68px,#6aff8d 72px,#0076ff 76px,#000080 80px,#000080 95.4px)"></i>
<i style="top:112px;height:2px;background:linear-gradient(90deg,#000080 0px,#000080 16px,#0097ff 20px,#78ff7f 24px,#dcff1b 28px,#ffab00 32px,#ff7b00 36px,#ff4f00 40px,#ff3200 44px,#ff2c00 48px,#ff3300 52px,#ff5300 56px,#ff7f00 60px,#ffb000 64px,#d5ff22 68px,#6aff8d 72px,#0076ff 76px,#000080 80px,#000080 95.4px)"></i>
<i style="top:114px;height:2px;background:linear-gradient(90deg,#000080 0px,#000080 16px,#0097ff 20px,#78ff7f 24px,#dcff1b 28px,#ffab00 32px,#ff7b00 36px,#ff4f00 40px,#ff3300 44px,#ff2d00 48px,#ff3400 52px,#ff5300 56px,#ff8000 60px,#ffb000 64px,#d5ff22 68px,#6aff8d 72px,#0076ff 76px,#000080 80px,#000080 95.4px)"></i>
<i style="top:116px;height:2px;background:linear-gradient(90deg,#000080 0px,#000080 16px,#0097ff 20px,#78ff7f 24px,#dcff1b 28px,#ffab00 32px,#ff7b00 36px,#ff5000 40px,#ff3400 44px,#ff2f00 48px,#ff3500 52px,#ff5300 56px,#ff8000 60px,#ffb000 64px,#d5ff22 68px,#6aff8d 72px,#0076ff 76px,#000080 80px,#000080 95.4px)"></i>
<i style="top:118px;height:2px;background:linear-gradient(90deg,#000080 0px,#000080 16px,#0097ff 20px,#78ff7f 24px,#dcff1b 28px,#ffab00 32px,#ff7b00 36px,#ff5000 40px,#ff3600 44px,#ff3100 48px,#ff3600 52px,#ff5400 56px,#ff8000 60px,#ffb000 64px,#d5ff22 68px,#6aff8d 72px,#0076ff 76px,#000080 80px,#000080 95.4px)"></i>
<i style="top:120px;height:2px;background:linear-gradient(90deg,#000080 0px,#000080 16px,#0097ff 20px,#78ff7f 24px,#dcff1b 28px,#ffac00 32px,#ff7b00 36px,#ff5100 40px,#ff3700 44px,#ff3300 48px,#ff3800 52px,#ff5400 56px,#ff8000 60px,#ffb000 64px,#d5ff22 68px,#6aff8d 72px,#0076ff 76px,#000080 80px,#000080 95.4px)"></i>
<i style="top:122px;height:2px;background:linear-gradient(90deg,#000080 0px,#000080 16px,#0097ff 20px,#78ff7f 24px,#dcff1b 28px,#ffac00 32px,#ff7c00 36px,#ff5100 40px,#ff3900 44px,#ff3500 48px,#ff3900 52px,#ff5500 56px,#ff8100 60px,#ffb100 64px,#d5ff22 68px,#69ff8d 72px,#0075ff 76px,#000080 80px,#000080 95.4px)"></i>
<i style="top:124px;height:2px;background:linear-gradient(90deg,#000080 0px,#000080 16px,#0097ff 20px,#77ff7f 24px,#dcff1b 28px,#ffac00 32px,#ff7c00 36px,#ff5200 40px,#ff3a00 44px,#ff3700 48px,#ff3b00 52px,#ff5500 56px,#ff8100 60px,#ffb100 64px,#d4ff22 68px,#69ff8d 72px,#0075ff 76px,#000080 80px,#000080 95.4px)"></i>
<i style="top:126px;height:2px;background:linear-gradient(90deg,#000080 0px,#000080 16px,#0097ff 20px,#77ff7f 24px,#dcff1b 28px,#ffac00 32px,#ff7d00 36px,#ff5300 40px,#ff3c00 44px,#ff3900 48px,#ff3c00 52px,#ff5600 56px,#ff8100 60px,#ffb100 64px,#d4ff22 68px,#69ff8d 72px,#0075ff 76px,#000080 80px,#000080 95.4px)"></i>
<i style="top:128px;height:2px;background:linear-gradient(90deg,#000080 0px,#000080 16px,#0097ff 20px,#77ff7f 24px,#dbff1b 28px,#ffad00 32px,#ff7d00 36px,#ff5400 40px,#ff3d00 44px,#ff3b00 48px,#ff3e00 52px,#ff5700 56px,#ff8200 60px,#ffb100 64px,#d4ff23 68px,#69ff8e 72px,#0075ff 76px,#000080 80px,#000080 95.4px)"></i>
<i style="top:130px;height:2px;background:linear-gradient(90deg,#000080 0px,#000080 16px,#0097ff 20px,#77ff80 24px,#dbff1b 28px,#ffad00 32px,#ff7d00 36px,#ff5400 40px,#ff3f00 44px,#ff3d00 48px,#ff4000 52px,#ff5800 56px,#ff8200 60px,#ffb200 64px,#d4ff23 68px,#69ff8e 72px,#0075ff 76px,#000080 80px,#000080 95.4px)"></i>
<i style="top:132px;height:2px;background:linear-gradient(90deg,#000080 0px,#000080 16px,#0097ff 20px,#77ff80 24px,#dbff1c 28px,#ffad00 32px,#ff7e00 36px,#ff5500 40px,#ff4100 44px,#ff3f00 48px,#ff4100 52px,#ff5900 56px,#ff8300 60px,#ffb200 64px,#d4ff23 68px,#69ff8e 72px,#0075ff 76px,#000080 80px,#000080 95.4px)"></i>
<i style="top:134px;height:2px;background:linear-gradient(90deg,#000080 0px,#000080 16px,#0096ff 20px,#77ff80 24px,#dbff1c 28px,#ffae00 32px,#ff7f00 36px,#ff5600 40px,#ff4300 44px,#ff4100 48px,#ff4300 52px,#ff5a00 56px,#ff8300 60px,#ffb200 64px,#d4ff23 68px,#69ff8e 72px,#0075ff 76px,#000080 80px,#000080 95.4px)"></i>
<i style="top:136px;height:2px;background:linear-gradient(90deg,#000080 0px,#000080 16px,#0096ff 20px,#76ff81 24px,#daff1d 28px,#ffb000 32px,#ff8200 36px,#ff5c00 40px,#ff4b00 44px,#ff4a00 48px,#ff4c00 52px,#ff5f00 56px,#ff8600 60px,#ffb400 64px,#d3ff24 68px,#68ff8f 72px,#0074ff 76px,#000080 80px,#000080 95.4px)"></i>
<i style="top:138px;height:2px;background:linear-gradient(90deg,#000080 0px,#000080 16px,#0093ff 20px,#72ff84 24px,#d4ff23 28px,#ffbb00 32px,#ff9200 36px,#ff7400 40px,#ff6a00 44px,#ff6900 48px,#ff6a00 52px,#ff7600 56px,#ff9600 60px,#ffbf00 64px,#cdff2a 68px,#65ff92 72px,#0072ff 76px,#000080 80px,#000080 95.4px)"></i>
<i style="top:140px;height:2px;background:linear-gradient(90deg,#000080 0px,#000080 16px,#008eff 20px,#6cff8b 24px,#cbff2b 28px,#ffcb00 32px,#ffa700 36px,#ff9000 40px,#ff8800 44px,#ff8800 48px,#ff8900 52px,#ff9100 56px,#ffaa00 60px,#ffcf00 64px,#c5ff32 68px,#5fff98 72px,#006dff 76px,#000080 80px,#000080 95.4px)"></i>
<i style="top:142px;height:2px;background:linear-gradient(90deg,#000080 0px,#000080 16px,#0085ff 20px,#61ff96 24px,#bcff3b 28px,#ffe600 32px,#ffc800 36px,#ffb600 40px,#ffb100 44px,#ffb000 48px,#ffb100 52px,#ffb700 56px,#ffcb00 60px,#ffe900 64px,#b5ff41 68px,#54ffa3 72px,#0064ff 76px,#000080 80px,#000080 95.4px)"></i>
<i style="top:144px;height:2px;background:linear-gradient(90deg,#000080 0px,#000080 16px,#006cff 20px,#42ffb4 24px,#93ff64 28px,#ceff29 32px,#e1ff16 36px,#ebff0c 40px,#eeff08 44px,#efff08 48px,#eeff09 52px,#ebff0c 56px,#dfff18 60px,#ccff2b 64px,#8eff69 68px,#36ffc0 72px,#004cff 76px,#000080 80px,#000080 95.4px)"></i>
<i style="top:146px;height:2px;background:linear-gradient(90deg,#000080 0px,#000080 16px,#0032ff 20px,#02e8f5 24px,#44ffb3 28px,#70ff87 32px,#7dff7a 36px,#84ff73 40px,#86ff71 44px,#86ff71 52px,#83ff73 56px,#7cff7b 60px,#6eff89 64px,#40ffb7 68px,#00dbff 72px,#0015ff 76px,#000080 80px,#000080 95.4px)"></i>
<i style="top:148px;height:2px;background:linear-gradient(90deg,#000080 0px,#000080 16px,#0000ff 20px,#009eff 24px,#00e4f8 28px,#23ffd4 32px,#2dffca 36px,#33ffc4 40px,#34ffc3 44px,#34ffc2 48px,#34ffc3 52px,#32ffc4 56px,#2cffca 60px,#22ffd5 64px,#00e0fc 68px,#0093ff 72px,#0000eb 76px,#000080 80px,#000080 95.4px)"></i>
<i style="top:150px;height:2px;background:linear-gradient(90deg,#000080 0px,#000080 16px,#0000a2 20px,#002eff 24px,#0068ff 28px,#008bff 32px,#0095ff 36px,#009bff 40px,#009cff 44px,#009cff 52px,#009aff 56px,#0095ff 60px,#008aff 64px,#0064ff 68px,#0024ff 72px,#000086 76px,#000080 80px,#000080 95.4px)"></i>
<i style="top:152px;height:2px;background:linear-gradient(90deg,#000080 0px,#000080 20px,#0000bc 24px,#0000f4 28px,#0005ff 32px,#000dff 36px,#0011ff 40px,#0013ff 44px,#0013ff 52px,#0011ff 56px,#000cff 60px,#0004ff 64px,#0000f1 68px,#0000b3 72px,#000080 76px,#000080 95.4px)"></i>
<i style="top:154px;height:2px;background:linear-gradient(90deg,#000080 0px,#000080 28px,#000095 32px,#00009d 36px,#0000a1 40px,#0000a2 44px,#0000a2 52px,#0000a1 56px,#00009c 60px,#000094 64px,#000080 68px,#000080 95.4px)"></i>
</div>
<div class="hm" style="left:460.6px;top:236.3px;width:135.29999999999995px;height:178.7px">
<i style="top:0px;height:2px;background:linear-gradient(90deg,#000080 0px,#000080 36px,#000098 40px,#00c2ff 44px,#5aff9d 48px,#9aff5d 52px,#bdff3a 56px,#ccff2b 60px,#d0ff27 64px,#d1ff26 68px,#d0ff27 72px,#cbff2c 76px,#bbff3b 80px,#98ff5f 84px,#55ffa1 88px,#00b5ff 92px,#000084 96px,#000080 100px,#000080 135.3px)"></i>
<i style="top:2px;height:2px;background:linear-gradient(90deg,#000080 0px,#000080 36px,#0000a2 40px,#00c8ff 44px,#5cff9b 48px,#9cff5a 52px,#bfff38 56px,#ceff29 60px,#d3ff24 64px,#d3ff23 68px,#d3ff24 72px,#ceff29 76px,#beff39 80px,#9aff5d 84px,#58ff9f 88px,#00bcff 92px,#00008e 96px,#000080 100px,#000080 135.3px)"></i>
<i style="top:4px;height:2px;background:linear-gradient(90deg,#000080 0px,#000080 36px,#0000ac 40px,#00cfff 44px,#5fff97 48px,#9fff57 52px,#c2ff35 56px,#d2ff25 60px,#d6ff20 64px,#d7ff20 68px,#d6ff21 72px,#d1ff26 76px,#c1ff36 80px,#9dff5a 84px,#5bff9c 88px,#00c2ff 92px,#000098 96px,#000080 100px,#000080 135.3px)"></i>
<i style="top:6px;height:2px;background:linear-gradient(90deg,#000080 0px,#000080 36px,#0000b6 40px,#00d6ff 44px,#63ff94 48px,#a3ff54 52px,#c6ff31 56px,#d6ff21 60px,#dbff1c 64px,#dcff1b 68px,#dbff1c 72px,#d5ff21 76px,#c5ff32 80px,#a0ff56 84px,#5fff98 88px,#00caff 92px,#0000a2 96px,#000080 100px,#000080 135.3px)"></i>
<i style="top:8px;height:2px;background:linear-gradient(90deg,#000080 0px,#000080 36px,#0000c0 40px,#00defd 44px,#67ff90 48px,#a7ff50 52px,#cbff2c 56px,#dbff1b 60px,#e1ff16 64px,#e2ff15 68px,#e1ff16 72px,#dbff1c 76px,#caff2d 80px,#a5ff52 84px,#63ff94 88px,#00d1ff 92px,#0000ac 96px,#000080 100px,#000080 135.3px)"></i>
<i style="top:10px;height:2px;background:linear-gradient(90deg,#000080 0px,#000080 36px,#0000cb 40px,#00e6f6 44px,#6bff8b 48px,#acff4a 52px,#d1ff26 56px,#e3ff14 60px,#e9ff0e 64px,#eaff0c 68px,#e9ff0e 72px,#e2ff15 76px,#d0ff27 80px,#aaff4d 84px,#67ff8f 88px,#00daff 92px,#0000b8 96px,#000080 100px,#000080 135.3px)"></i>
<i style="top:12px;height:2px;background:linear-gradient(90deg,#000080 0px,#000080 36px,#0000d7 40px,#08f0ef 44px,#71ff86 48px,#b3ff44 52px,#d9ff1e 56px,#ecff0b 60px,#f3fa04 64px,#f5f802 68px,#f3fa04 72px,#ebff0c 76px,#d8ff1f 80px,#b0ff46 84px,#6dff8a 88px,#00e4f8 92px,#0000c3 96px,#000080 100px,#000080 135.3px)"></i>
<i style="top:14px;height:2px;background:linear-gradient(90deg,#000080 0px,#000080 36px,#0000e3 40px,#0df6e9 44px,#77ff80 48px,#baff3d 52px,#e2ff15 56px,#f6f601 60px,#ffec00 64px,#ffea00 68px,#ffed00 72px,#f5f701 76px,#e0ff17 80px,#b7ff3f 84px,#73ff84 88px,#06edf0 92px,#0000cf 96px,#000080 100px,#000080 135.3px)"></i>
<i style="top:16px;height:2px;background:linear-gradient(90deg,#000080 0px,#000080 36px,#0000ef 40px,#13fde4 44px,#7dff7a 48px,#c2ff35 52px,#ebff0b 56px,#ffe900 60px,#ffdd00 64px,#ffda00 68px,#ffdd00 72px,#ffea00 76px,#eaff0d 80px,#bfff38 84px,#79ff7e 88px,#0cf5ea 92px,#0000db 96px,#000080 100px,#000080 135.3px)"></i>
<i style="top:18px;height:2px;background:linear-gradient(90deg,#000080 0px,#000080 36px,#0000fb 40px,#19ffde 44px,#84ff73 48px,#cbff2c 52px,#f7f600 56px,#ffd900 60px,#ffcc00 64px,#ffc800 68px,#ffcc00 72px,#ffda00 76px,#f5f802 80px,#c8ff2f 84px,#80ff77 88px,#12fce4 92px,#0000e8 96px,#000080 100px,#000080 135.3px)"></i>
<i style="top:20px;height:2px;background:linear-gradient(90deg,#000080 0px,#000080 36px,#0000ff 40px,#1fffd8 44px,#8bff6b 48px,#d4ff23 52px,#ffe800 56px,#ffc900 60px,#ffb900 64px,#ffb500 68px,#ffba00 72px,#ffca00 76px,#ffea00 80px,#d1ff26 84px,#87ff70 88px,#18ffde 92px,#0000f5 96px,#000080 100px,#000080 135.3px)"></i>
<i style="top:22px;height:2px;background:linear-gradient(90deg,#000080 0px,#000080 36px,#0003ff 40px,#25ffd2 44px,#93ff64 48px,#ddff19 52px,#ffda00 56px,#ffb800 60px,#ffa700 64px,#ffa200 68px,#ffa700 72px,#ffba00 76px,#ffdd00 80px,#daff1c 84px,#8eff69 88px,#1effd9 92px,#0000ff 96px,#000080 100px,#000080 135.3px)"></i>
<i style="top:24px;height:2px;background:linear-gradient(90deg,#000080 0px,#000080 36px,#0007ff 40px,#28ffce 44px,#98ff5e 48px,#e6ff11 52px,#ffce00 56px,#ffa900 60px,#ff9600 64px,#ff9000 68px,#ff9600 72px,#ffaa00 76px,#ffd000 80px,#e3ff14 84px,#94ff63 88px,#22ffd5 92px,#0000ff 96px,#000080 100px,#000080 135.3px)"></i>
<i style="top:26px;height:2px;background:linear-gradient(90deg,#000080 0px,#000080 36px,#000bff 40px,#2cffcb 44px,#9dff5a 48px,#edff0a 52px,#ffc300 56px,#ff9c00 60px,#ff8700 64px,#ff8100 68px,#ff8800 72px,#ff9e00 76px,#ffc600 80px,#e9ff0d 84px,#98ff5e 88px,#25ffd2 92px,#0000ff 96px,#000080 100px,#000080 135.3px)"></i>
<i style="top:28px;height:2px;background:linear-gradient(90deg,#000080 0px,#000080 36px,#000dff 40px,#2effc9 44px,#a0ff56 48px,#f1fc05 52px,#ffbc00 56px,#ff9300 60px,#ff7d00 64px,#ff7700 68px,#ff7e00 72px,#ff9500 76px,#ffbf00 80px,#eeff09 84px,#9cff5b 88px,#27ffd0 92px,#0000ff 96px,#000080 100px,#000080 135.3px)"></i>
<i style="top:30px;height:2px;background:linear-gradient(90deg,#000080 0px,#000080 36px,#000eff 40px,#2fffc8 44px,#a2ff55 48px,#f4f903 52px,#ffb900 56px,#ff8f00 60px,#ff7800 64px,#ff7200 68px,#ff7900 72px,#ff9100 76px,#ffbb00 80px,#f0fd06 84px,#9dff5a 88px,#28ffcf 92px,#0000ff 96px,#000080 100px,#000080 135.3px)"></i>
<i style="top:32px;height:2px;background:linear-gradient(90deg,#000080 0px,#000080 36px,#000fff 40px,#2fffc7 44px,#a3ff54 48px,#f4f802 52px,#ffb800 56px,#ff8f00 60px,#ff7800 64px,#ff7100 68px,#ff7900 72px,#ff9000 76px,#ffbb00 80px,#f1fc06 84px,#9eff59 88px,#28ffce 92px,#0000ff 96px,#000080 100px,#000080 135.3px)"></i>
<i style="top:34px;height:2px;background:linear-gradient(90deg,#000080 0px,#000080 36px,#000eff 40px,#2fffc8 44px,#a2ff55 48px,#f3fa04 52px,#ffbb00 56px,#ff9200 60px,#ff7d00 64px,#ff7600 68px,#ff7d00 72px,#ff9400 76px,#ffbd00 80px,#effe07 84px,#9dff5a 88px,#28ffcf 92px,#0000ff 96px,#000080 100px,#000080 135.3px)"></i>
<i style="top:36px;height:2px;background:linear-gradient(90deg,#000080 0px,#000080 36px,#000cff 40px,#2dffc9 44px,#9fff57 48px,#efff08 52px,#ffc100 56px,#ff9b00 60px,#ff8600 64px,#ff8000 68px,#ff8700 72px,#ff9c00 76px,#ffc400 80px,#ebff0b 84px,#9bff5c 88px,#27ffd0 92px,#0000ff 96px,#000080 100px,#000080 135.3px)"></i>
<i style="top:38px;height:2px;background:linear-gradient(90deg,#000080 0px,#000080 36px,#0014ff 40px,#33ffc4 44px,#a2ff54 48px,#eeff09 52px,#ffc800 56px,#ffa500 60px,#ff9300 64px,#ff8e00 68px,#ff9400 72px,#ffa700 76px,#ffca00 80px,#ebff0c 84px,#9eff59 88px,#2cffcb 92px,#0002ff 96px,#000080 100px,#000080 135.3px)"></i>
<i style="top:40px;height:2px;background:linear-gradient(90deg,#000080 0px,#000080 36px,#0051ff 40px,#5dff99 44px,#c2ff35 48px,#fcef00 52px,#ffc800 56px,#ffb000 60px,#ffa300 64px,#ff9e00 68px,#ffa300 72px,#ffb100 76px,#ffc900 80px,#faf200 84px,#beff38 88px,#57ffa0 92px,#003cff 96px,#000080 100px,#000080 135.3px)"></i>
<i style="top:42px;height:2px;background:linear-gradient(90deg,#000080 0px,#000080 36px,#12fbe5 40px,#b1ff46 44px,#ffd700 48px,#ff8f00 52px,#ff5e00 56px,#ff3a00 60px,#ff2300 64px,#ff1b00 68px,#ff2300 72px,#ff3b00 76px,#ff6000 80px,#ff9200 84px,#ffdb00 88px,#abff4c 92px,#07eef0 96px,#000080 100px,#000080 135.3px)"></i>
<i style="top:44px;height:2px;background:linear-gradient(90deg,#000080 0px,#000080 36px,#0df5ea 40px,#afff48 44px,#ffd600 48px,#ff8d00 52px,#ff5a00 56px,#ff3500 60px,#ff1d00 64px,#ff1500 68px,#ff1e00 72px,#ff3600 76px,#ff5c00 80px,#ff9000 84px,#ffdb00 88px,#a9ff4e 92px,#00e5f7 96px,#000080 100px,#000080 135.3px)"></i>
<i style="top:46px;height:2px;background:linear-gradient(90deg,#000080 0px,#000080 36px,#04ebf3 40px,#aaff4c 44px,#ffdb00 48px,#ff9200 52px,#ff5f00 56px,#ff3a00 60px,#ff2300 64px,#ff1b00 68px,#ff2300 72px,#ff3c00 76px,#ff6100 80px,#ff9500 84px,#ffdf00 88px,#a4ff53 92px,#00d7ff 96px,#000080 100px,#000080 135.3px)"></i>
<i style="top:48px;height:2px;background:linear-gradient(90deg,#000080 0px,#000080 36px,#00d1ff 40px,#a1ff56 44px,#ffe400 48px,#ff9c00 52px,#ff6b00 56px,#ff4800 60px,#ff3300 64px,#ff2b00 68px,#ff3300 72px,#ff4a00 76px,#ff6d00 80px,#ff9f00 84px,#ffe900 88px,#9aff5d 92px,#00bcff 96px,#000080 100px,#000080 135.3px)"></i>
<i style="top:50px;height:2px;background:linear-gradient(90deg,#000080 0px,#000080 36px,#00b4ff 40px,#95ff61 44px,#fbf100 48px,#ffab00 52px,#ff7d00 56px,#ff5e00 60px,#ff4a00 64px,#ff4400 68px,#ff4b00 72px,#ff5f00 76px,#ff7f00 80px,#ffad00 84px,#f7f500 88px,#8fff68 92px,#009fff 96px,#000080 100px,#000080 135.3px)"></i>
<i style="top:52px;height:2px;background:linear-gradient(90deg,#000080 0px,#000080 36px,#0095ff 40px,#89ff6e 44px,#eeff08 48px,#ffbc00 52px,#ff9200 56px,#ff7700 60px,#ff6600 64px,#ff6100 68px,#ff6700 72px,#ff7800 76px,#ff9400 80px,#ffbe00 84px,#ebff0c 88px,#82ff75 92px,#007fff 96px,#000080 100px,#000080 135.3px)"></i>
<i style="top:54px;height:2px;background:linear-gradient(90deg,#000080 0px,#000080 36px,#0073ff 40px,#7bff7c 44px,#e0ff17 48px,#ffcf00 52px,#ffa900 56px,#ff9200 60px,#ff8400 64px,#ff7f00 68px,#ff8500 72px,#ff9300 76px,#ffab00 80px,#ffd100 84px,#dcff1a 88px,#74ff83 92px,#005dff 96px,#000080 100px,#000080 135.3px)"></i>
<i style="top:56px;height:2px;background:linear-gradient(90deg,#000080 0px,#000080 36px,#0051ff 40px,#6cff8b 44px,#d2ff24 48px,#ffe100 52px,#ffbf00 56px,#ffab00 60px,#ffa000 64px,#ff9c00 68px,#ffa000 72px,#ffac00 76px,#ffc000 80px,#ffe300 84px,#cfff28 88px,#65ff91 92px,#003aff 96px,#000080 100px,#000080 135.3px)"></i>
<i style="top:58px;height:2px;background:linear-gradient(90deg,#000080 0px,#000080 36px,#002fff 40px,#5fff98 44px,#c6ff31 48px,#fbf000 52px,#ffd100 56px,#ffbf00 60px,#ffb600 64px,#ffb300 68px,#ffb600 72px,#ffc000 76px,#ffd200 80px,#faf200 84px,#c2ff34 88px,#58ff9f 92px,#0018ff 96px,#000080 100px,#000080 135.3px)"></i>
<i style="top:60px;height:2px;background:linear-gradient(90deg,#000080 0px,#000080 36px,#000dff 40px,#52ffa4 44px,#bcff3b 48px,#f1fc06 52px,#ffdd00 56px,#ffcd00 60px,#ffc500 64px,#ffc200 68px,#ffc500 72px,#ffce00 76px,#ffde00 80px,#effe07 84px,#b8ff3f 88px,#4bffac 92px,#0000ff 96px,#000080 100px,#000080 135.3px)"></i>
<i style="top:62px;height:2px;background:linear-gradient(90deg,#000080 0px,#000080 36px,#0000fd 40px,#48ffae 44px,#b4ff42 48px,#ebff0c 52px,#ffe500 56px,#ffd500 60px,#ffcd00 64px,#ffca00 68px,#ffcd00 72px,#ffd500 76px,#ffe600 80px,#e9ff0e 84px,#b1ff46 88px,#41ffb6 92px,#0000e1 96px,#000080 100px,#000080 135.3px)"></i>
<i style="top:64px;height:2px;background:linear-gradient(90deg,#000080 0px,#000080 36px,#0000f0 40px,#43ffb4 44px,#b2ff45 48px,#eaff0d 52px,#ffe400 56px,#ffd300 60px,#ffca00 64px,#ffc700 68px,#ffcb00 72px,#ffd400 76px,#ffe500 80px,#e8ff0f 84px,#aeff49 88px,#3bffbb 92px,#0000d4 96px,#000080 100px,#000080 135.3px)"></i>
<i style="top:66px;height:2px;background:linear-gradient(90deg,#000080 0px,#000080 36px,#0000e4 40px,#3dffba 44px,#afff48 48px,#ebff0c 52px,#ffe000 56px,#ffcd00 60px,#ffc300 64px,#ffbf00 68px,#ffc300 72px,#ffce00 76px,#ffe100 80px,#e9ff0e 84px,#abff4c 88px,#35ffc1 92px,#0000c8 96px,#000080 100px,#000080 135.3px)"></i>
<i style="top:68px;height:2px;background:linear-gradient(90deg,#000080 0px,#000080 36px,#0000da 40px,#38ffbf 44px,#aeff49 48px,#edff0a 52px,#ffd900 56px,#ffc400 60px,#ffb800 64px,#ffb400 68px,#ffb800 72px,#ffc400 76px,#ffdb00 80px,#ebff0c 84px,#a9ff4e 88px,#30ffc7 92px,#0000be 96px,#000080 100px,#000080 135.3px)"></i>
<i style="top:70px;height:2px;background:linear-gradient(90deg,#000080 0px,#000080 36px,#0000d1 40px,#33ffc4 44px,#adff4a 48px,#f0fd06 52px,#ffd100 56px,#ffb800 60px,#ffaa00 64px,#ffa600 68px,#ffab00 72px,#ffb900 76px,#ffd300 80px,#eeff09 84px,#a8ff4f 88px,#2bffcc 92px,#0000b5 96px,#000080 100px,#000080 135.3px)"></i>
<i style="top:72px;height:2px;background:linear-gradient(90deg,#000080 0px,#000080 36px,#0000c8 40px,#2effc9 44px,#acff4b 48px,#f4f903 52px,#ffc900 56px,#ffac00 60px,#ff9c00 64px,#ff9700 68px,#ff9d00 72px,#ffad00 76px,#ffcb00 80px,#f1fc06 84px,#a7ff50 88px,#26ffd1 92px,#0000ad 96px,#000080 100px,#000080 135.3px)"></i>
<i style="top:74px;height:2px;background:linear-gradient(90deg,#000080 0px,#000080 36px,#0000c8 40px,#2bffcc 44px,#abff4c 48px,#f7f500 52px,#ffc100 56px,#ffa100 60px,#ff8f00 64px,#ff8900 68px,#ff9000 72px,#ffa200 76px,#ffc300 80px,#f4f802 84px,#a6ff51 88px,#22ffd5 92px,#0000ad 96px,#000080 100px,#000080 135.3px)"></i>
<i style="top:76px;height:2px;background:linear-gradient(90deg,#000080 0px,#000080 36px,#0000cb 40px,#28ffcf 44px,#abff4c 48px,#faf200 52px,#ffbb00 56px,#ff9800 60px,#ff8400 64px,#ff7e00 68px,#ff8500 72px,#ff9900 76px,#ffbd00 80px,#f7f600 84px,#a5ff51 88px,#20ffd7 92px,#0000b2 96px,#000080 100px,#000080 135.3px)"></i>
<i style="top:78px;height:2px;background:linear-gradient(90deg,#000080 0px,#000080 36px,#0000ce 40px,#25ffd2 44px,#a9ff4e 48px,#fbf100 52px,#ffb600 56px,#ff9200 60px,#ff7c00 64px,#ff7600 68px,#ff7d00 72px,#ff9300 76px,#ffb900 80px,#f7f500 84px,#a4ff53 88px,#1cffda 92px,#0000b5 96px,#000080 100px,#000080 135.3px)"></i>
<i style="top:80px;height:2px;background:linear-gradient(90deg,#000080 0px,#000080 36px,#0000d0 40px,#21ffd6 44px,#a6ff51 48px,#faf200 52px,#ffb500 56px,#ff8e00 60px,#ff7800 64px,#ff7100 68px,#ff7900 72px,#ff9000 76px,#ffb700 80px,#f7f600 84px,#a1ff56 88px,#19ffde 92px,#0000b9 96px,#000080 100px,#000080 135.3px)"></i>
<i style="top:82px;height:2px;background:linear-gradient(90deg,#000080 0px,#000080 36px,#0000d3 40px,#1dffda 44px,#a2ff54 48px,#f8f400 52px,#ffb600 56px,#ff8e00 60px,#ff7800 64px,#ff7100 68px,#ff7900 72px,#ff9000 76px,#ffb800 80px,#f4f802 84px,#9dff5a 88px,#14ffe2 92px,#0000bc 96px,#000080 100px,#000080 135.3px)"></i>
<i style="top:84px;height:2px;background:linear-gradient(90deg,#000080 0px,#000080 36px,#0000d5 40px,#18ffde 44px,#9eff59 48px,#f4f903 52px,#ffba00 56px,#ff9200 60px,#ff7c00 64px,#ff7600 68px,#ff7d00 72px,#ff9400 76px,#ffbc00 80px,#f1fd06 84px,#99ff5e 88px,#10f9e7 92px,#0000bf 96px,#000080 100px,#000080 135.3px)"></i>
<i style="top:86px;height:2px;background:linear-gradient(90deg,#000080 0px,#000080 36px,#0000d7 40px,#14fee3 44px,#99ff5e 48px,#efff08 52px,#ffc000 56px,#ff9a00 60px,#ff8500 64px,#ff7e00 68px,#ff8500 72px,#ff9b00 76px,#ffc300 80px,#ebff0c 84px,#93ff63 88px,#0bf4eb 92px,#0000c1 96px,#000080 100px,#000080 135.3px)"></i>
<i style="top:88px;height:2px;background:linear-gradient(90deg,#000080 0px,#000080 36px,#0000d8 40px,#0ef7e8 44px,#92ff64 48px,#e8ff0f 52px,#ffc900 56px,#ffa400 60px,#ff9000 64px,#ff8a00 68px,#ff9100 72px,#ffa500 76px,#ffcb00 80px,#e4ff12 84px,#8dff6a 88px,#06edf1 92px,#0000c4 96px,#000080 100px,#000080 135.3px)"></i>
<i style="top:90px;height:2px;background:linear-gradient(90deg,#000080 0px,#000080 36px,#0000da 40px,#09f0ee 44px,#8cff6b 48px,#e0ff17 52px,#ffd300 56px,#ffb000 60px,#ff9e00 64px,#ff9800 68px,#ff9e00 72px,#ffb100 76px,#ffd600 80px,#ddff1a 84px,#86ff71 88px,#00e4f8 92px,#0000c6 96px,#000080 100px,#000080 135.3px)"></i>
<i style="top:92px;height:2px;background:linear-gradient(90deg,#000080 0px,#000080 36px,#0000db 40px,#01e7f5 44px,#84ff73 48px,#d8ff1f 52px,#ffde00 56px,#ffbd00 60px,#ffac00 64px,#ffa800 68px,#ffad00 72px,#ffbe00 76px,#ffe100 80px,#d4ff22 84px,#7fff78 88px,#00dcff 92px,#0000c7 96px,#000080 100px,#000080 135.3px)"></i>
<i style="top:94px;height:2px;background:linear-gradient(90deg,#000080 0px,#000080 36px,#0000d6 40px,#00dcff 44px,#7bff7b 48px,#cfff28 52px,#ffea00 56px,#ffca00 60px,#ffbb00 64px,#ffb700 68px,#ffbb00 72px,#ffcb00 76px,#ffec00 80px,#cbff2b 84px,#76ff81 88px,#00d0ff 92px,#0000c3 96px,#000080 100px,#000080 135.3px)"></i>
<i style="top:96px;height:2px;background:linear-gradient(90deg,#000080 0px,#000080 36px,#0000d2 40px,#00d1ff 44px,#73ff84 48px,#c6ff31 52px,#f7f500 56px,#ffd600 60px,#ffc900 64px,#ffc500 68px,#ffc900 72px,#ffd700 76px,#f6f701 80px,#c3ff34 84px,#6eff89 88px,#00c6ff 92px,#0000c0 96px,#000080 100px,#000080 135.3px)"></i>
<i style="top:98px;height:2px;background:linear-gradient(90deg,#000080 0px,#000080 36px,#0000cd 40px,#00c6ff 44px,#6aff8c 48px,#bdff39 52px,#efff08 56px,#ffe100 60px,#ffd500 64px,#ffd200 68px,#ffd500 72px,#ffe200 76px,#edff0a 80px,#baff3d 84px,#65ff92 88px,#00bbff 92px,#0000bc 96px,#000080 100px,#000080 135.3px)"></i>
<i style="top:100px;height:2px;background:linear-gradient(90deg,#000080 0px,#000080 36px,#0000c5 40px,#00bcff 44px,#62ff94 48px,#b6ff41 52px,#e7ff10 56px,#ffeb00 60px,#ffdf00 64px,#ffdd00 68px,#ffe000 72px,#ffec00 76px,#e5ff12 80px,#b2ff45 84px,#5dff9a 88px,#00b1ff 92px,#0000b3 96px,#000080 100px,#000080 135.3px)"></i>
<i style="top:102px;height:2px;background:linear-gradient(90deg,#000080 0px,#000080 36px,#0000bd 40px,#00b1ff 44px,#5bff9c 48px,#aeff48 52px,#e0ff17 56px,#f9f300 60px,#ffe800 64px,#ffe600 68px,#ffe800 72px,#f8f400 76px,#deff19 80px,#abff4c 84px,#56ffa1 88px,#00a7ff 92px,#0000ac 96px,#000080 100px,#000080 135.3px)"></i>
<i style="top:104px;height:2px;background:linear-gradient(90deg,#000080 0px,#000080 36px,#0000b5 40px,#00a8ff 44px,#53ffa3 48px,#a7ff4f 52px,#d9ff1d 56px,#f3fa04 60px,#fcef00 64px,#feed00 68px,#fcf000 72px,#f2fb05 76px,#d8ff1f 80px,#a4ff53 84px,#4effa9 88px,#009dff 92px,#0000a4 96px,#000080 100px,#000080 135.3px)"></i>
<i style="top:106px;height:2px;background:linear-gradient(90deg,#000080 0px,#000080 36px,#0000ae 40px,#009eff 44px,#4bffab 48px,#a0ff57 52px,#d2ff25 56px,#ebff0c 60px,#f4f802 64px,#f6f701 68px,#f4f903 72px,#eaff0d 76px,#d0ff27 80px,#9cff5a 84px,#46ffb1 88px,#0094ff 92px,#00009d 96px,#000080 100px,#000080 135.3px)"></i>
<i style="top:108px;height:2px;background:linear-gradient(90deg,#000080 0px,#000080 36px,#0000a7 40px,#0095ff 44px,#44ffb3 48px,#98ff5e 52px,#cbff2c 56px,#e4ff13 60px,#eeff09 64px,#efff08 68px,#edff09 72px,#e3ff13 76px,#c9ff2e 80px,#95ff62 84px,#3fffb8 88px,#008bff 92px,#000097 96px,#000080 100px,#000080 135.3px)"></i>
<i style="top:110px;height:2px;background:linear-gradient(90deg,#000080 0px,#000080 36px,#0000a1 40px,#008cff 44px,#3dffba 48px,#91ff65 52px,#c4ff32 56px,#deff18 60px,#e8ff0f 64px,#e9ff0d 68px,#e8ff0f 72px,#deff19 76px,#c2ff34 80px,#8eff69 84px,#38ffbf 88px,#0082ff 92px,#000091 96px,#000080 100px,#000080 135.3px)"></i>
<i style="top:112px;height:2px;background:linear-gradient(90deg,#000080 0px,#000080 36px,#000094 40px,#0080ff 44px,#34ffc3 48px,#8aff6d 52px,#beff39 56px,#d9ff1e 60px,#e3ff14 64px,#e4ff12 68px,#e3ff14 72px,#d8ff1f 76px,#bcff3b 80px,#87ff70 84px,#2fffc8 88px,#0076ff 92px,#000085 96px,#000080 100px,#000080 135.3px)"></i>
<i style="top:114px;height:2px;background:linear-gradient(90deg,#000080 0px,#000080 36px,#000085 40px,#0072ff 44px,#2bffcc 48px,#82ff74 52px,#b8ff3f 56px,#d4ff23 60px,#dfff18 64px,#e0ff17 68px,#deff18 72px,#d3ff24 76px,#b6ff41 80px,#7fff78 84px,#26ffd1 88px,#0068ff 92px,#000080 96px,#000080 135.3px)"></i>
<i style="top:116px;height:2px;background:linear-gradient(90deg,#000080 0px,#000080 40px,#0065ff 44px,#22ffd5 48px,#7bff7c 52px,#b2ff45 56px,#cfff27 60px,#dbff1c 64px,#dcff1a 68px,#daff1c 72px,#ceff28 76px,#b0ff47 80px,#77ff7f 84px,#1cffdb 88px,#005bff 92px,#000080 96px,#000080 135.3px)"></i>
<i style="top:118px;height:2px;background:linear-gradient(90deg,#000080 0px,#000080 40px,#0058ff 44px,#18ffde 48px,#73ff83 52px,#acff4a 56px,#cbff2c 60px,#d7ff20 64px,#d9ff1e 68px,#d7ff20 72px,#caff2d 76px,#aaff4d 80px,#70ff87 84px,#13fde4 88px,#004dff 92px,#000080 96px,#000080 135.3px)"></i>
<i style="top:120px;height:2px;background:linear-gradient(90deg,#000080 0px,#000080 40px,#004aff 44px,#0ff8e8 48px,#6cff8b 52px,#a7ff50 56px,#c7ff30 60px,#d3ff23 64px,#d5ff21 68px,#d3ff24 72px,#c5ff31 76px,#a4ff52 80px,#68ff8f 84px,#0af1ed 88px,#0040ff 92px,#000080 96px,#000080 135.3px)"></i>
<i style="top:122px;height:2px;background:linear-gradient(90deg,#000080 0px,#000080 40px,#003dff 44px,#06edf1 48px,#64ff93 52px,#a1ff56 56px,#c2ff35 60px,#d0ff27 64px,#d2ff25 68px,#cfff27 72px,#c1ff36 76px,#9eff58 80px,#60ff96 84px,#00e5f7 88px,#0033ff 92px,#000080 96px,#000080 135.3px)"></i>
<i style="top:124px;height:2px;background:linear-gradient(90deg,#000080 0px,#000080 40px,#0031ff 44px,#00e1fb 48px,#5dff9a 52px,#9bff5c 56px,#beff39 60px,#ccff2a 64px,#cfff28 68px,#ccff2b 72px,#bdff3a 76px,#98ff5e 80px,#59ff9e 84px,#00d9ff 88px,#0026ff 92px,#000080 96px,#000080 135.3px)"></i>
<i style="top:126px;height:2px;background:linear-gradient(90deg,#000080 0px,#000080 40px,#0023ff 44px,#00d1ff 48px,#51ffa6 52px,#8fff67 56px,#b3ff44 60px,#c2ff35 64px,#c4ff33 68px,#c1ff36 72px,#b1ff45 76px,#8dff6a 80px,#4dffaa 84px,#00caff 88px,#0018ff 92px,#000080 96px,#000080 135.3px)"></i>
<i style="top:128px;height:2px;background:linear-gradient(90deg,#000080 0px,#000080 40px,#0015ff 44px,#00c1ff 48px,#43ffb4 52px,#81ff76 56px,#a4ff53 60px,#b3ff44 64px,#b6ff41 68px,#b3ff44 72px,#a3ff54 76px,#7fff78 80px,#3fffb8 84px,#00b9ff 88px,#000bff 92px,#000080 96px,#000080 135.3px)"></i>
<i style="top:130px;height:2px;background:linear-gradient(90deg,#000080 0px,#000080 40px,#0007ff 44px,#00b0ff 48px,#35ffc2 52px,#73ff84 56px,#96ff61 60px,#a5ff52 64px,#a7ff50 68px,#a4ff53 72px,#94ff62 76px,#70ff86 80px,#31ffc6 84px,#00a9ff 88px,#0000ff 92px,#000080 96px,#000080 135.3px)"></i>
<i style="top:132px;height:2px;background:linear-gradient(90deg,#000080 0px,#000080 40px,#0000ff 44px,#009cff 48px,#25ffd1 52px,#64ff93 56px,#87ff70 60px,#96ff61 64px,#99ff5e 68px,#96ff61 72px,#86ff71 76px,#61ff96 80px,#21ffd5 84px,#0095ff 88px,#0000f5 92px,#000080 96px,#000080 135.3px)"></i>
<i style="top:134px;height:2px;background:linear-gradient(90deg,#000080 0px,#000080 40px,#0000e5 44px,#0085ff 48px,#15ffe2 52px,#54ffa3 56px,#78ff7f 60px,#87ff6f 64px,#8aff6d 68px,#87ff70 72px,#77ff80 76px,#51ffa5 80px,#11fae6 84px,#007eff 88px,#0000d9 92px,#000080 96px,#000080 135.3px)"></i>
<i style="top:136px;height:2px;background:linear-gradient(90deg,#000080 0px,#000080 40px,#0000c9 44px,#006eff 48px,#04eaf3 52px,#44ffb3 56px,#69ff8e 60px,#79ff7e 64px,#7cff7b 68px,#78ff7e 72px,#68ff8f 76px,#42ffb5 80px,#00e5f7 84px,#0067ff 88px,#0000be 92px,#000080 96px,#000080 135.3px)"></i>
<i style="top:138px;height:2px;background:linear-gradient(90deg,#000080 0px,#000080 40px,#0000ae 44px,#0058ff 48px,#00d5ff 52px,#35ffc2 56px,#5aff9d 60px,#6aff8d 64px,#6dff8a 68px,#6aff8d 72px,#59ff9e 76px,#32ffc5 80px,#00d0ff 84px,#0051ff 88px,#0000a3 92px,#000080 96px,#000080 135.3px)"></i>
<i style="top:140px;height:2px;background:linear-gradient(90deg,#000080 0px,#000080 40px,#000094 44px,#0042ff 48px,#00c0ff 52px,#25ffd2 56px,#4bffac 60px,#5cff9b 64px,#5fff98 68px,#5bff9c 72px,#4affad 76px,#22ffd4 80px,#00bbff 84px,#003aff 88px,#000088 92px,#000080 96px,#000080 135.3px)"></i>
<i style="top:142px;height:2px;background:linear-gradient(90deg,#000080 0px,#000080 44px,#002cff 48px,#00abff 52px,#14ffe2 56px,#3bffbc 60px,#4cffab 64px,#4fffa8 68px,#4bffac 72px,#3affbd 76px,#12fbe5 80px,#00a5ff 84px,#0024ff 88px,#000080 92px,#000080 135.3px)"></i>
<i style="top:144px;height:2px;background:linear-gradient(90deg,#000080 0px,#000080 44px,#0013ff 48px,#0090ff 52px,#00e2f9 56px,#24ffd3 60px,#35ffc2 64px,#38ffbf 68px,#34ffc3 72px,#23ffd4 76px,#00dffc 80px,#008aff 84px,#000bff 88px,#000080 92px,#000080 135.3px)"></i>
<i style="top:146px;height:2px;background:linear-gradient(90deg,#000080 0px,#000080 44px,#0000ff 48px,#0075ff 52px,#00c7ff 56px,#0df6ea 60px,#1effd9 64px,#21ffd6 68px,#1dffda 72px,#0cf4eb 76px,#00c3ff 80px,#0070ff 84px,#0000ff 88px,#000080 92px,#000080 135.3px)"></i>
<i style="top:148px;height:2px;background:linear-gradient(90deg,#000080 0px,#000080 44px,#0000f1 48px,#005cff 52px,#00abff 56px,#00d9ff 60px,#07eef0 64px,#0af2ed 68px,#06edf1 72px,#00d8ff 76px,#00a8ff 80px,#0057ff 84px,#0000e9 88px,#000080 92px,#000080 135.3px)"></i>
<i style="top:150px;height:2px;background:linear-gradient(90deg,#000080 0px,#000080 44px,#0000d7 48px,#0042ff 52px,#0090ff 56px,#00bdff 60px,#00d1ff 64px,#00d5ff 68px,#00d1ff 72px,#00bcff 76px,#008dff 80px,#003dff 84px,#0000cf 88px,#000080 92px,#000080 135.3px)"></i>
<i style="top:152px;height:2px;background:linear-gradient(90deg,#000080 0px,#000080 44px,#0000bd 48px,#0029ff 52px,#0076ff 56px,#00a2ff 60px,#00b6ff 64px,#00baff 68px,#00b6ff 72px,#00a1ff 76px,#0073ff 80px,#0024ff 84px,#0000b5 88px,#000080 92px,#000080 135.3px)"></i>
<i style="top:154px;height:2px;background:linear-gradient(90deg,#000080 0px,#000080 44px,#0000a6 48px,#0015ff 52px,#0062ff 56px,#008fff 60px,#00a3ff 64px,#00a7ff 68px,#00a2ff 72px,#008dff 76px,#005fff 80px,#0010ff 84px,#00009e 88px,#000080 92px,#000080 135.3px)"></i>
<i style="top:156px;height:2px;background:linear-gradient(90deg,#000080 0px,#000080 44px,#00008f 48px,#0001ff 52px,#004eff 56px,#007cff 60px,#0090ff 64px,#0094ff 68px,#008fff 72px,#007aff 76px,#004bff 80px,#0000ff 84px,#000087 88px,#000080 92px,#000080 135.3px)"></i>
<i style="top:158px;height:2px;background:linear-gradient(90deg,#000080 0px,#000080 48px,#0000fc 52px,#003bff 56px,#0068ff 60px,#007dff 64px,#0081ff 68px,#007cff 72px,#0067ff 76px,#0038ff 80px,#0000f6 84px,#000080 88px,#000080 135.3px)"></i>
<i style="top:160px;height:2px;background:linear-gradient(90deg,#000080 0px,#000080 48px,#0000e7 52px,#0028ff 56px,#0055ff 60px,#006aff 64px,#006eff 68px,#0069ff 72px,#0054ff 76px,#0025ff 80px,#0000e1 84px,#000080 88px,#000080 135.3px)"></i>
<i style="top:162px;height:2px;background:linear-gradient(90deg,#000080 0px,#000080 48px,#0000d2 52px,#0015ff 56px,#0042ff 60px,#0057ff 64px,#005bff 68px,#0056ff 72px,#0041ff 76px,#0012ff 80px,#0000cd 84px,#000080 88px,#000080 135.3px)"></i>
<i style="top:164px;height:2px;background:linear-gradient(90deg,#000080 0px,#000080 48px,#0000bf 52px,#0003ff 56px,#0030ff 60px,#0044ff 64px,#0048ff 68px,#0043ff 72px,#002eff 76px,#0000ff 80px,#0000b9 84px,#000080 88px,#000080 135.3px)"></i>
<i style="top:166px;height:2px;background:linear-gradient(90deg,#000080 0px,#000080 48px,#0000ac 52px,#0000ff 56px,#001dff 60px,#0031ff 64px,#0035ff 68px,#0030ff 72px,#001bff 76px,#0000fc 80px,#0000a7 84px,#000080 88px,#000080 135.3px)"></i>
<i style="top:168px;height:2px;background:linear-gradient(90deg,#000080 0px,#000080 48px,#00009a 52px,#0000ef 56px,#000eff 60px,#0023ff 64px,#0027ff 68px,#0022ff 72px,#000dff 76px,#0000eb 80px,#000095 84px,#000080 88px,#000080 135.3px)"></i>
<i style="top:170px;height:2px;background:linear-gradient(90deg,#000080 0px,#000080 48px,#000088 52px,#0000df 56px,#0002ff 60px,#0017ff 64px,#001cff 68px,#0017ff 72px,#0001ff 76px,#0000dc 80px,#000083 84px,#000080 88px,#000080 135.3px)"></i>
<i style="top:172px;height:2px;background:linear-gradient(90deg,#000080 0px,#000080 52px,#0000d0 56px,#0000ff 60px,#000cff 64px,#0010ff 68px,#000bff 72px,#0000ff 76px,#0000cc 80px,#000080 84px,#000080 135.3px)"></i>
<i style="top:174px;height:2px;background:linear-gradient(90deg,#000080 0px,#000080 52px,#0000c0 56px,#0000f8 60px,#0001ff 64px,#0005ff 68px,#0000ff 72px,#0000f6 76px,#0000bd 80px,#000080 84px,#000080 135.3px)"></i>
<i style="top:176px;height:2px;background:linear-gradient(90deg,#000080 0px,#000080 52px,#0000b1 56px,#0000ea 60px,#0000ff 64px,#0000ff 72px,#0000e8 76px,#0000ad 80px,#000080 84px,#000080 135.3px)"></i>
<i style="top:178px;height:2px;background:linear-gradient(90deg,#000080 0px,#000080 52px,#0000a5 56px,#0000df 60px,#0000f9 64px,#0000ff 68px,#0000f9 72px,#0000dc 76px,#0000a1 80px,#000080 84px,#000080 135.3px)"></i>
</div>
<svg width="685" height="484" viewBox="0 0 685 484" font-family="Liberation Sans, sans-serif" fill="#1c1c1c">
<g id="top">
<!-- incoming beam, one translucent layer -->
<g fill="#969432" fill-opacity="0.41">
<path d="M29.4,13.8 L144.5,10.8 L160,12 L200,14.5 L235,21.5 L283.4,39 L301.6,46.5 L305.3,50.9 L305.3,155.7 C285,156 255,158.5 235,161.3 L29.4,175.4 Z"/>
<!-- outgoing fan base -->
<path d="M305.3,50.9 L391,80 L500,120 L565,142.5 L606,158.5 L565,156.2 L305.3,155.7 Z"/>
</g>
<!-- second translucent layer where reflected beams overlap the incoming one -->
<g fill="#969432" fill-opacity="0.41">
<path d="M233,21 L283.4,39 L301.6,45 L305.3,45 L305.3,155.7 L238.9,155.8 L230.8,148 L229.4,100 Z"/>
<path d="M172.2,66 L208,72.8 L231,77 L231,74.3 L172.2,73.6 Z"/>
</g>
<path d="M29.4,162.3 L172,155 L235,152.5 L235,161.3 L29.4,175.4 Z" fill="#d2dcc0" fill-opacity="0.35"/>
<!-- plates -->
<linearGradient id="pg" x1="0" y1="0" x2="0.15" y2="1"><stop offset="0" stop-color="#777763"/><stop offset="0.55" stop-color="#86867c"/><stop offset="1" stop-color="#8e8e8a"/></linearGradient>
<g fill="url(#pg)">
<path d="M144.5,6.1 L164,6.1 L180,7.2 L193.4,9 L215.3,13.4 L235,18.5 L254.2,25 L283.4,35.3 L301.6,44.3 L301.6,48.7 L283.4,42.4 L254.2,31.3 L235,24 L215.3,19.7 L193.4,18.2 L180,18.5 L165,19.7 L144.5,9.5 Z" fill="#8a8a8a"/>
<path d="M146.4,47 L178.8,46.6 C200,47 220,48.5 235,50.5 S258,54 268.8,57.5 L303,71.4 L303,75.5 L290.7,72.4 C280,70 255,67 235,66 S185,64.5 166.4,65.5 L146.4,51.7 Z"/>
<path d="M144.5,73.3 L235,74.3 C250,75 260,76 267.3,77.7 L301,93.3 L301,97.7 L270,95 L235,94.3 L165,95.2 L144.5,77.2 Z"/>
<path d="M148.1,98.8 L200,96.5 L270.3,99.5 L304.6,118.5 L304.6,122.4 L235,121.6 L167.8,123.3 L148.1,102.4 Z"/>
<path d="M148.1,123.6 L200,122 L270.3,121.8 L303.8,144 L303.8,148.1 L235,147 L200.7,149.2 L168.6,152.4 L148.1,127.3 Z"/>
</g>
<!-- olive tint over right part of plates (clip to plates) -->
<clipPath id="pc">
<path d="M146.4,47 L178.8,46.6 C200,47 220,48.5 235,50.5 S258,54 268.8,57.5 L303,71.4 L303,75.5 L290.7,72.4 C280,70 255,67 235,66 S185,64.5 166.4,65.5 L146.4,51.7 Z"/>
<path d="M144.5,73.3 L235,74.3 C250,75 260,76 267.3,77.7 L301,93.3 L301,97.7 L270,95 L235,94.3 L165,95.2 L144.5,77.2 Z"/>
<path d="M148.1,98.8 L200,96.5 L270.3,99.5 L304.6,118.5 L304.6,122.4 L235,121.6 L167.8,123.3 L148.1,102.4 Z"/>
<path d="M148.1,123.6 L200,122 L270.3,121.8 L303.8,144 L303.8,148.1 L235,147 L200.7,149.2 L168.6,152.4 L148.1,127.3 Z"/>
</clipPath>
<g clip-path="url(#pc)">
<path d="M231,20 H310 V160 H229 Z" fill="#7a7820" fill-opacity="0.22"/>
<path d="M172,66 L231,70 V96 H190 Z" fill="#7a7820" fill-opacity="0.14"/>
</g>
<!-- lighter front edges of plates -->
<g fill="none" stroke="#96969c" stroke-width="2.8">
<path d="M166.4,63.9 C185,62.9 215,63.4 235,64.4 S280,68.4 290.7,70.8 L303,73.9" />
<path d="M164.5,93.6 L235,92.7 L270,93.4 L301,96.1"/>
<path d="M167.3,121.7 L235,120 L304.6,120.8"/>
<path d="M168,150.8 L200.7,147.6 L235,145.4 L303.8,146.5"/>
</g>
<!-- darker overlap bands in the fan -->
<g fill="#969432" fill-opacity="0.27">
<path d="M305.3,93.8 L380,106 L500,129.3 L565,143.5 L565,148 L500,135.8 L380,114.4 L305.3,102.4 Z"/>
<path d="M305.3,118 L380,125.6 L500,136 L565,148 L565,151 L500,139.5 L380,131 L305.3,122 Z"/>
<path d="M305.3,139.5 L380,139.5 L500,139.5 L565,149 L565,154 L500,148 L380,148.5 L305.3,145.4 Z"/>
</g>
<g fill="#969432" fill-opacity="0.09">
<path d="M305.3,74 L380,94 L500,122.5 L565,143 L565,146 L500,129.3 L380,106 L305.3,93.8 Z"/>
<path d="M305.3,102.4 L380,114.4 L500,135.8 L500,138 L380,120 L305.3,108 Z"/>
</g>
<!-- sample -->
<path d="M566.5,151.5 L585.3,149.1 L590.4,149.1 L614.7,158.2 L614.7,162.3 L587,164 L566.5,157.5 Z" fill="#8d8d8d"/>
<linearGradient id="fg" gradientUnits="userSpaceOnUse" x1="430" y1="0" x2="585" y2="0"><stop offset="0" stop-color="#969432" stop-opacity="0"/><stop offset="1" stop-color="#969432" stop-opacity="0.62"/></linearGradient>
<path d="M430,110 L565,144.5 L606,158.5 L565,155.8 L430,150 Z" fill="url(#fg)"/>
<path d="M565.3,121v38.6" stroke="#000" stroke-width="2"/>
<path d="M571.1,165.8H614.7" stroke="#000" stroke-width="1.7"/>
</g>

<rect x="48.3" y="250.8" width="153.8" height="163" fill="none" stroke="#000" stroke-width="0.8"/>
<path d="M48.3,413.8v3.2M86.75,413.8v3.2M125.2,413.8v3.2M163.65,413.8v3.2M202.1,413.8v3.2M48.3,251h-3.2M48.3,271.3h-3.2M48.3,291.6h-3.2M48.3,311.9h-3.2M48.3,332.2h-3.2M48.3,352.5h-3.2M48.3,372.8h-3.2M48.3,393.1h-3.2M48.3,413.4h-3.2" stroke="#000" stroke-width="0.8" fill="none"/>
<text x="48.3" y="428.6" font-size="10.49" text-anchor="middle" textLength="20.1" lengthAdjust="spacingAndGlyphs">-1.0</text>
<text x="86.75" y="428.6" font-size="10.49" text-anchor="middle" textLength="20.1" lengthAdjust="spacingAndGlyphs">-0.5</text>
<text x="125.2" y="428.6" font-size="10.49" text-anchor="middle" textLength="16.4" lengthAdjust="spacingAndGlyphs">0.0</text>
<text x="163.65" y="428.6" font-size="10.49" text-anchor="middle" textLength="16.4" lengthAdjust="spacingAndGlyphs">0.5</text>
<text x="202.1" y="428.6" font-size="10.49" text-anchor="middle" textLength="16.4" lengthAdjust="spacingAndGlyphs">1.0</text>
<text x="43.2" y="254.85" font-size="10.49" text-anchor="end" textLength="16.4" lengthAdjust="spacingAndGlyphs">0.0</text>
<text x="43.2" y="275.15" font-size="10.49" text-anchor="end" textLength="20.1" lengthAdjust="spacingAndGlyphs">-0.2</text>
<text x="43.2" y="295.45" font-size="10.49" text-anchor="end" textLength="20.1" lengthAdjust="spacingAndGlyphs">-0.5</text>
<text x="43.2" y="315.75" font-size="10.49" text-anchor="end" textLength="20.1" lengthAdjust="spacingAndGlyphs">-0.8</text>
<text x="43.2" y="336.05" font-size="10.49" text-anchor="end" textLength="20.1" lengthAdjust="spacingAndGlyphs">-1.0</text>
<text x="43.2" y="356.35" font-size="10.49" text-anchor="end" textLength="20.1" lengthAdjust="spacingAndGlyphs">-1.2</text>
<text x="43.2" y="376.65" font-size="10.49" text-anchor="end" textLength="20.1" lengthAdjust="spacingAndGlyphs">-1.5</text>
<text x="43.2" y="396.95" font-size="10.49" text-anchor="end" textLength="20.1" lengthAdjust="spacingAndGlyphs">-1.8</text>
<text x="43.2" y="417.25" font-size="10.49" text-anchor="end" textLength="20.1" lengthAdjust="spacingAndGlyphs">-2.0</text>
<text x="125.2" y="444.7" font-size="14.05" text-anchor="middle" textLength="103.0" lengthAdjust="spacingAndGlyphs">Y position [cm]</text>
<text x="16.1" y="332.7" font-size="14.05" text-anchor="middle" textLength="109.5" lengthAdjust="spacingAndGlyphs" transform="rotate(-90 16.1 332.7)">Z position [cm]</text>
<rect x="287.8" y="233" width="95.4" height="182" fill="none" stroke="#000" stroke-width="0.8"/>
<path d="M287.8,415v3.2M311.63,415v3.2M335.46,415v3.2M359.29,415v3.2M383.12,415v3.2M287.8,238h-3.2M287.8,263.29h-3.2M287.8,288.58h-3.2M287.8,313.87h-3.2M287.8,339.16h-3.2M287.8,364.45h-3.2M287.8,389.74h-3.2M287.8,415.03h-3.2" stroke="#000" stroke-width="0.8" fill="none"/>
<text x="287.8" y="429.7" font-size="10.49" text-anchor="middle" textLength="20.1" lengthAdjust="spacingAndGlyphs">-1.0</text>
<text x="311.63" y="429.7" font-size="10.49" text-anchor="middle" textLength="20.1" lengthAdjust="spacingAndGlyphs">-0.5</text>
<text x="335.46" y="429.7" font-size="10.49" text-anchor="middle" textLength="16.4" lengthAdjust="spacingAndGlyphs">0.0</text>
<text x="359.29" y="429.7" font-size="10.49" text-anchor="middle" textLength="16.4" lengthAdjust="spacingAndGlyphs">0.5</text>
<text x="383.12" y="429.7" font-size="10.49" text-anchor="middle" textLength="16.4" lengthAdjust="spacingAndGlyphs">1.0</text>
<text x="282.8" y="241.85" font-size="10.49" text-anchor="end" textLength="16.4" lengthAdjust="spacingAndGlyphs">0.5</text>
<text x="282.8" y="267.14" font-size="10.49" text-anchor="end" textLength="16.4" lengthAdjust="spacingAndGlyphs">0.0</text>
<text x="282.8" y="292.43" font-size="10.49" text-anchor="end" textLength="20.1" lengthAdjust="spacingAndGlyphs">-0.5</text>
<text x="282.8" y="317.72" font-size="10.49" text-anchor="end" textLength="20.1" lengthAdjust="spacingAndGlyphs">-1.0</text>
<text x="282.8" y="343.01" font-size="10.49" text-anchor="end" textLength="20.1" lengthAdjust="spacingAndGlyphs">-1.5</text>
<text x="282.8" y="368.3" font-size="10.49" text-anchor="end" textLength="20.1" lengthAdjust="spacingAndGlyphs">-2.0</text>
<text x="282.8" y="393.59" font-size="10.49" text-anchor="end" textLength="20.1" lengthAdjust="spacingAndGlyphs">-2.5</text>
<text x="282.8" y="418.88" font-size="10.49" text-anchor="end" textLength="20.1" lengthAdjust="spacingAndGlyphs">-3.0</text>
<text x="335.5" y="446.1" font-size="14.05" text-anchor="middle" textLength="129.6" lengthAdjust="spacingAndGlyphs">Y divergence [deg]</text>
<text x="256" y="325.2" font-size="14.05" text-anchor="middle" textLength="140.5" lengthAdjust="spacingAndGlyphs" transform="rotate(-90 256 325.2)">Z divergence [deg]</text>
<rect x="460.6" y="236.3" width="135.3" height="178.7" fill="none" stroke="#000" stroke-width="0.8"/>
<path d="M460.6,415v3.2M494.43,415v3.2M528.26,415v3.2M562.09,415v3.2M595.92,415v3.2M460.6,237.8h-3.2M460.6,260.2h-3.2M460.6,282.6h-3.2M460.6,305h-3.2M460.6,327.4h-3.2M460.6,349.8h-3.2M460.6,372.2h-3.2M460.6,394.6h-3.2" stroke="#000" stroke-width="0.8" fill="none"/>
<text x="460.6" y="430.2" font-size="10.49" text-anchor="middle" textLength="20.1" lengthAdjust="spacingAndGlyphs">-2.0</text>
<text x="494.43" y="430.2" font-size="10.49" text-anchor="middle" textLength="20.1" lengthAdjust="spacingAndGlyphs">-1.0</text>
<text x="528.26" y="430.2" font-size="10.49" text-anchor="middle" textLength="16.4" lengthAdjust="spacingAndGlyphs">0.0</text>
<text x="562.09" y="430.2" font-size="10.49" text-anchor="middle" textLength="16.4" lengthAdjust="spacingAndGlyphs">1.0</text>
<text x="595.92" y="430.2" font-size="10.49" text-anchor="middle" textLength="16.4" lengthAdjust="spacingAndGlyphs">2.0</text>
<text x="455.6" y="241.65" font-size="10.49" text-anchor="end" textLength="16.4" lengthAdjust="spacingAndGlyphs">5.0</text>
<text x="455.6" y="264.05" font-size="10.49" text-anchor="end" textLength="16.4" lengthAdjust="spacingAndGlyphs">2.5</text>
<text x="455.6" y="286.45" font-size="10.49" text-anchor="end" textLength="16.4" lengthAdjust="spacingAndGlyphs">0.0</text>
<text x="455.6" y="308.85" font-size="10.49" text-anchor="end" textLength="20.1" lengthAdjust="spacingAndGlyphs">-2.5</text>
<text x="455.6" y="331.25" font-size="10.49" text-anchor="end" textLength="20.1" lengthAdjust="spacingAndGlyphs">-5.0</text>
<text x="455.6" y="353.65" font-size="10.49" text-anchor="end" textLength="20.1" lengthAdjust="spacingAndGlyphs">-7.5</text>
<text x="455.6" y="376.05" font-size="10.49" text-anchor="end" textLength="26.6" lengthAdjust="spacingAndGlyphs">-10.0</text>
<text x="455.6" y="398.45" font-size="10.49" text-anchor="end" textLength="26.6" lengthAdjust="spacingAndGlyphs">-12.5</text>
<text x="528.25" y="446.7" font-size="14.05" text-anchor="middle" textLength="103.0" lengthAdjust="spacingAndGlyphs">Y position [cm]</text>
<text x="422.1" y="326.3" font-size="14.05" text-anchor="middle" textLength="110.8" lengthAdjust="spacingAndGlyphs" transform="rotate(-90 422.1 326.3)">X position [cm]</text>
<defs><linearGradient id="jet" x1="0" y1="1" x2="0" y2="0">
<stop offset="0" stop-color="#000080"/><stop offset="0.11" stop-color="#0000ff"/><stop offset="0.125" stop-color="#0000ff"/>
<stop offset="0.34" stop-color="#00dcff"/><stop offset="0.35" stop-color="#00e6f8"/><stop offset="0.375" stop-color="#14ffe3"/>
<stop offset="0.64" stop-color="#ecff08"/><stop offset="0.65" stop-color="#f7f500"/><stop offset="0.66" stop-color="#ffec00"/>
<stop offset="0.89" stop-color="#ff1300"/><stop offset="0.91" stop-color="#e80000"/><stop offset="1" stop-color="#800000"/>
</linearGradient></defs>
<rect x="641.4" y="209.6" width="12.9" height="247.4" fill="url(#jet)" stroke="#333" stroke-width="0.6"/>
<path d="M654.3,255.1h2M654.3,350h2M654.3,457h2" stroke="#000" stroke-width="0.8"/>
<text x="658" y="260.7" font-size="14.46" text-anchor="start" textLength="16.6" lengthAdjust="spacingAndGlyphs">10</text>
<text x="674.6" y="255.2" font-size="10.08" text-anchor="start" textLength="6.1" lengthAdjust="spacingAndGlyphs">6</text>
<text x="658" y="355.6" font-size="14.46" text-anchor="start" textLength="16.6" lengthAdjust="spacingAndGlyphs">10</text>
<text x="674.6" y="350.1" font-size="10.08" text-anchor="start" textLength="6.1" lengthAdjust="spacingAndGlyphs">5</text>
<text x="657.2" y="462.3" font-size="14.46" text-anchor="start" textLength="8.6" lengthAdjust="spacingAndGlyphs">0</text>
<text x="623.7" y="328.2" font-size="16.08" text-anchor="middle" textLength="68.0" lengthAdjust="spacingAndGlyphs" transform="rotate(-90 623.7 328.2)">Intensity</text>
<text x="323.5" y="204.6" font-family="Liberation Serif, serif" font-size="21" stroke="#1c1c1c" stroke-width="0.65" textLength="23.5" lengthAdjust="spacingAndGlyphs">a)</text>
<text x="113.6" y="474" font-family="Liberation Serif, serif" font-size="21.5" stroke="#1c1c1c" stroke-width="0.65" textLength="25.6" lengthAdjust="spacingAndGlyphs">b)</text>
<text x="324" y="474" font-family="Liberation Serif, serif" font-size="20.5" stroke="#1c1c1c" stroke-width="0.65" textLength="24" lengthAdjust="spacingAndGlyphs">c)</text>
<text x="517.9" y="474.3" font-family="Liberation Serif, serif" font-size="20.5" stroke="#1c1c1c" stroke-width="0.65" textLength="24.8" lengthAdjust="spacingAndGlyphs">d)</text>
<text x="543.5" y="108.5" font-family="Liberation Serif, serif" font-size="20.5" stroke="#1c1c1c" stroke-width="0.65" textLength="21.5" lengthAdjust="spacingAndGlyphs">b,</text>
<text x="573.8" y="108.5" font-family="Liberation Serif, serif" font-size="20.5" stroke="#1c1c1c" stroke-width="0.65" textLength="12.8" lengthAdjust="spacingAndGlyphs">c</text>
<text x="584.8" y="191.7" font-family="Liberation Serif, serif" font-size="20.5" stroke="#1c1c1c" stroke-width="0.65" textLength="15" lengthAdjust="spacingAndGlyphs">d</text>
</svg>
</body></html>
